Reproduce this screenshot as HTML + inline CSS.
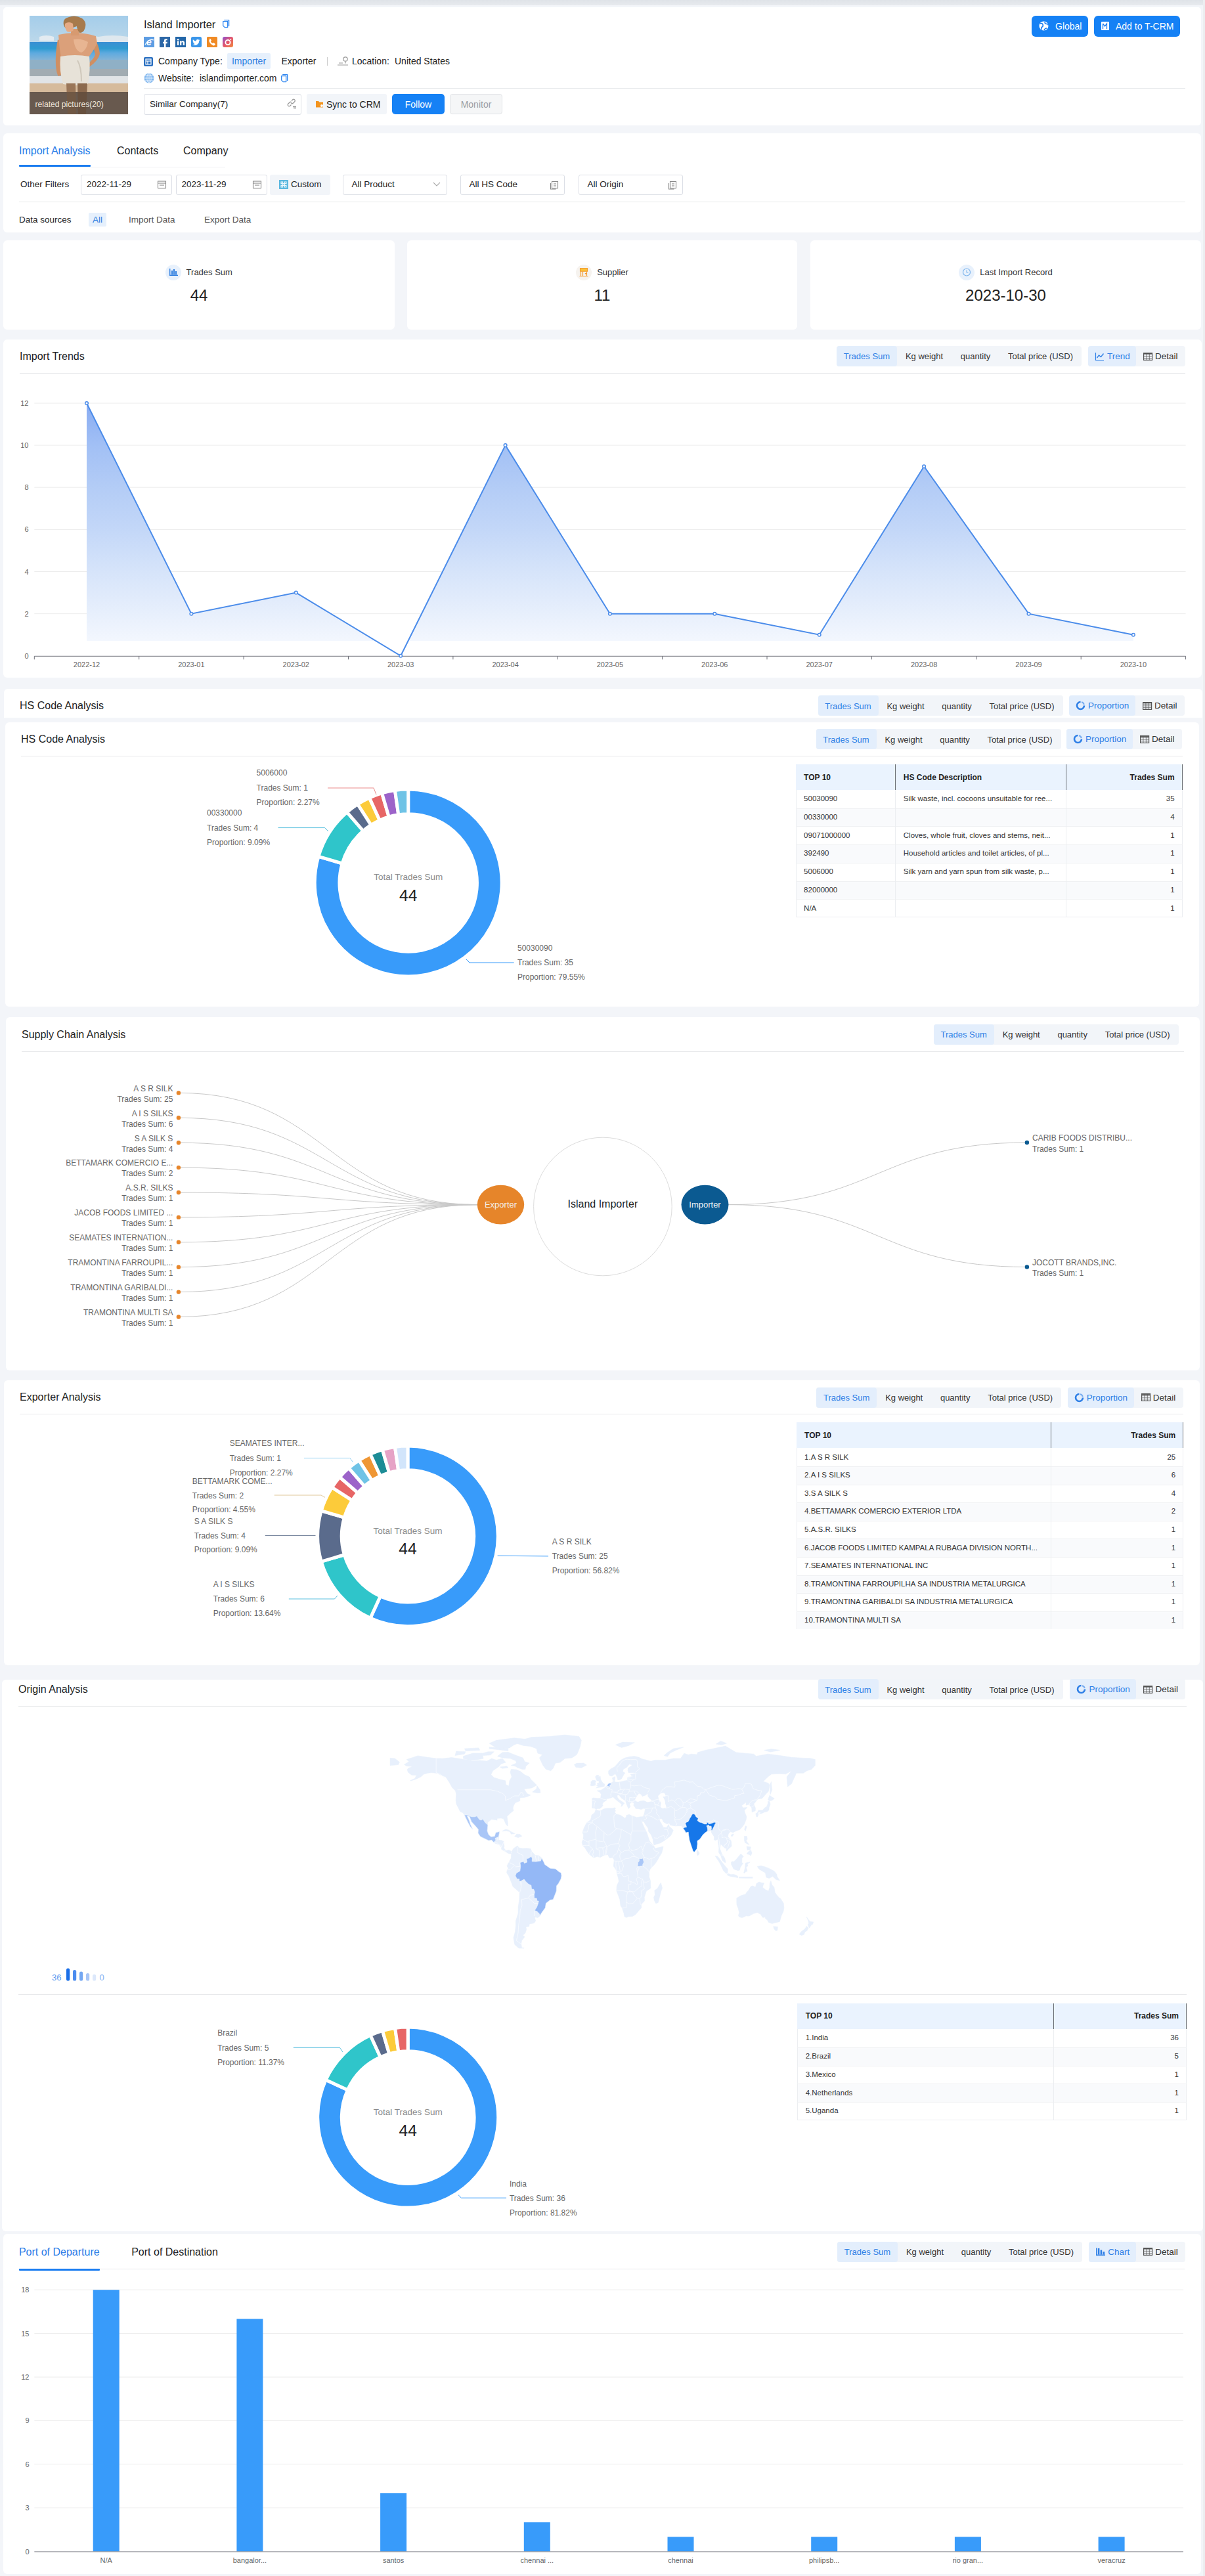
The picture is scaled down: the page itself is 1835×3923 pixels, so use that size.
<!DOCTYPE html>
<html><head><meta charset="utf-8"><title>Island Importer</title>
<style>
html,body{margin:0;padding:0}
body{width:1835px;height:3923px;background:#f3f5f9;position:relative;overflow:hidden;font-family:"Liberation Sans", Arial, sans-serif;color:#222}
svg text{font-family:"Liberation Sans", Arial, sans-serif}
</style></head><body>
<div style="position:absolute;left:0.0px;top:0.0px;width:1835.0px;height:8.0px;background:linear-gradient(#dfe3e8,#e7eaee);border-radius:0px;"></div>
<div style="position:absolute;left:5.0px;top:10.5px;width:1824.0px;height:180.5px;background:#fff;border-radius:5px;"></div>
<svg style="position:absolute;left:45px;top:24px;overflow:visible;" width="150" height="150" viewBox="45 24 150 150"><defs><clipPath id="pc"><rect x="45" y="24" width="150" height="150"/></clipPath>
<linearGradient id="sky" x1="0" y1="0" x2="0" y2="1"><stop offset="0" stop-color="#a4cdea"/><stop offset="1" stop-color="#bcd8ea"/></linearGradient>
<linearGradient id="sea" x1="0" y1="0" x2="0" y2="1"><stop offset="0" stop-color="#3a8fd3"/><stop offset="0.35" stop-color="#2f9bd0"/><stop offset="0.6" stop-color="#5eaadf"/><stop offset="1" stop-color="#86b4d6"/></linearGradient></defs>
<g clip-path="url(#pc)">
<rect x="45" y="24" width="150" height="41" fill="url(#sky)"/>
<path d="M110 58 q20 -6 40 -2 q20 -4 45 0 v8 h-85z" fill="#dfe8ee"/>
<path d="M60 56 q10 -4 22 0 v6 h-22z" fill="#e3ebf1"/>
<rect x="45" y="64" width="150" height="28" fill="url(#sea)"/>
<rect x="45" y="91" width="150" height="15" fill="#8fb0c6"/>
<rect x="45" y="105" width="150" height="12" fill="#a2acb2"/>
<rect x="45" y="116" width="150" height="12" fill="#e1e4e6"/>
<rect x="45" y="127" width="150" height="14" fill="#d6bb9c"/>
<rect x="45" y="140" width="150" height="34" fill="#8d7868"/>
<path d="M88 60 q-4 20 -3 40 q1 12 4 16 l5 -2 q-2 -14 0 -28 l3 -20z" fill="#d08f62"/>
<path d="M143 58 q8 10 9 24 q-2 10 -16 20 l-3 -4 q10 -8 12 -15 q-2 -10 -6 -16z" fill="#d08f62"/>
<path d="M89 53 Q117 46 146 55 L148 66 Q141 80 133 89 L93 89 Q90 70 89 53 Z" fill="#dba07a"/>
<path d="M112 60 q12 -2 22 4 q-2 12 -10 16 q-10 -2 -12 -20z" fill="#e8b592"/>
<path d="M108 44 h12 v10 h-12z" fill="#d79a70"/>
<path d="M97 38 q-2 -10 8 -12 q10 -4 20 2 q8 6 4 16 q-2 6 -8 6 q-4 -6 -4 -10 q-8 2 -12 6 q-6 -2 -8 -8z" fill="#a77a4c"/>
<path d="M99 36 q6 -4 12 0 l1 10 q-4 4 -10 2 q-4 -6 -3 -12z" fill="#e6ab86"/>
<path d="M92 86 q22 -4 44 0 q2 20 -2 42 q-20 4 -38 0 q-6 -20 -4 -42z" fill="#e7e2d8"/>
<path d="M118 92 q6 10 6 32" stroke="#cfc8bb" stroke-width="2" fill="none"/>
<path d="M101 127 h14 l1 47 h-13z" fill="#9a7658"/>
<path d="M118 127 h15 l-2 47 h-12z" fill="#8c6a4e"/>
<rect x="45" y="140" width="150" height="34" fill="rgba(45,40,38,0.38)"/>
</g>
<text x="53.5" y="162.5" font-size="12.1" fill="#efe6dc" font-family="Liberation Sans">related pictures(20)</text></svg>
<div style="position:absolute;left:219.0px;top:29.0px;font-size:16.4px;line-height:16.4px;color:#222;white-space:nowrap;">Island Importer</div>
<svg style="position:absolute;left:338.5px;top:29.8px;overflow:visible;" width="11" height="13" viewBox="338.5 29.8 11 13"><g fill="none" stroke="#2f86f0" stroke-width="1.3" stroke-linejoin="round"><path d="M340.7 30.5 H348.1 V39.8"/><path d="M339.2 32.4 H346.2 V41.4 H341.7 L339.2 38.9 Z"/></g></svg>
<svg style="position:absolute;left:219px;top:56px;overflow:visible;" width="16" height="16" viewBox="219 56 16 16"><rect x="219" y="56" width="16" height="16" fill="#5d9de3"/><text x="227" y="69" font-size="14" font-style="italic" font-weight="700" fill="#fff" text-anchor="middle" font-family="Liberation Serif">e</text><path d="M221 68 Q227 58 234 61" stroke="#fff" stroke-width="1.2" fill="none"/></svg>
<svg style="position:absolute;left:243px;top:56px;overflow:visible;" width="16" height="16" viewBox="243 56 16 16"><rect x="243" y="56" width="16" height="16" fill="#2d67a6"/><path d="M254.5 59.2 h-2 c-1.8 0 -2.6 1 -2.6 2.6 v2 h-1.8 v2.4 h1.8 v5.8 h2.6 v-5.8 h2 l0.3 -2.4 h-2.3 v-1.6 c0 -0.6 0.3 -0.9 0.9 -0.9 h1.4z" fill="#fff"/></svg>
<svg style="position:absolute;left:267px;top:56px;overflow:visible;" width="16" height="16" viewBox="267 56 16 16"><rect x="267" y="56" width="16" height="16" fill="#2266a8"/><rect x="270" y="62.5" width="2.3" height="6.5" fill="#fff"/><circle cx="271.15" cy="60.2" r="1.3" fill="#fff"/><path d="M274 62.5 h2.2 v1 c0.5 -0.8 1.3 -1.2 2.3 -1.2 c1.6 0 2.5 1 2.5 3 v3.7 h-2.3 v-3.4 c0 -0.9 -0.4 -1.4 -1.1 -1.4 c-0.8 0 -1.3 0.5 -1.3 1.4 v3.4 h-2.3z" fill="#fff"/></svg>
<svg style="position:absolute;left:291px;top:56px;overflow:visible;" width="16" height="16" viewBox="291 56 16 16"><rect x="291" y="56" width="16" height="16" rx="2.5" fill="#3a96ea"/><path d="M304 61 c-0.4 0.2 -0.9 0.3 -1.3 0.4 c0.5 -0.3 0.8 -0.7 1 -1.3 c-0.4 0.3 -0.9 0.4 -1.4 0.5 c-0.9 -1 -2.6 -0.9 -3.3 0.3 c-0.3 0.5 -0.4 1.1 -0.2 1.7 c-1.9 -0.1 -3.6 -1 -4.8 -2.4 c-0.6 1.1 -0.3 2.4 0.7 3 c-0.4 0 -0.7 -0.1 -1 -0.3 c0 1.1 0.8 2.1 1.9 2.3 c-0.3 0.1 -0.7 0.1 -1 0.1 c0.3 1 1.2 1.6 2.2 1.6 c-1 0.8 -2.3 1.1 -3.5 1 c4.6 2.7 10 -0.3 9.9 -5.6 c0.5 -0.3 0.9 -0.7 1.2 -1.2z" fill="#fff"/></svg>
<svg style="position:absolute;left:315px;top:56px;overflow:visible;" width="16" height="16" viewBox="315 56 16 16"><rect x="315" y="56" width="16" height="16" rx="1.5" fill="#f08a24"/><path d="M319.2 59 c0.6 -0.3 1.2 -0.2 1.5 0.4 l1 1.8 c0.3 0.5 0.1 1 -0.3 1.3 l-0.6 0.5 c0.5 1.3 1.6 2.5 2.9 3.1 l0.5 -0.6 c0.3 -0.4 0.9 -0.5 1.3 -0.2 l1.8 1.1 c0.5 0.3 0.6 1 0.3 1.5 l-0.6 0.8 c-0.6 0.7 -1.6 0.9 -2.5 0.5 c-2.7 -1.2 -4.9 -3.5 -6 -6.2 c-0.3 -0.9 -0.1 -1.8 0.6 -2.4z" fill="#fff"/></svg>
<svg style="position:absolute;left:339px;top:56px;overflow:visible;" width="16" height="16" viewBox="339 56 16 16"><defs><linearGradient id="ig" x1="0" y1="0" x2="1" y2="1"><stop offset="0" stop-color="#8a4fd0"/><stop offset="0.5" stop-color="#e5566c"/><stop offset="1" stop-color="#f08c3c"/></linearGradient></defs><rect x="339" y="56" width="16" height="16" rx="3" fill="url(#ig)"/><circle cx="347" cy="64.5" r="3.6" fill="none" stroke="#fff" stroke-width="1.8"/><circle cx="351.3" cy="59.9" r="1" fill="#fff"/></svg>
<svg style="position:absolute;left:219px;top:87px;overflow:visible;" width="14" height="14" viewBox="219 87 14 14"><rect x="219" y="87" width="14" height="14" rx="2" fill="#2a6fc0"/><rect x="222" y="90" width="8" height="8" fill="none" stroke="#fff" stroke-width="1.2"/><line x1="222" y1="93" x2="230" y2="93" stroke="#fff" stroke-width="1.2"/><line x1="225" y1="93" x2="225" y2="98" stroke="#fff" stroke-width="1.2"/></svg>
<div style="position:absolute;left:241.0px;top:86.2px;font-size:14px;line-height:14px;color:#222;white-space:nowrap;">Company Type:</div>
<div style="position:absolute;left:346.0px;top:81.0px;width:66.0px;height:23.5px;background:#e6f0fc;border-radius:2px;"></div>
<div style="position:absolute;left:379.0px;top:86.2px;font-size:14px;line-height:14px;color:#2f7fe0;white-space:nowrap;transform:translateX(-50%);">Importer</div>
<div style="position:absolute;left:428.5px;top:86.2px;font-size:14px;line-height:14px;color:#222;white-space:nowrap;">Exporter</div>
<div style="position:absolute;left:498.0px;top:87.0px;width:1.0px;height:13.0px;background:#ccc;border-radius:0px;"></div>
<svg style="position:absolute;left:513px;top:85px;overflow:visible;" width="18" height="16" viewBox="513 85 18 16"><g fill="none" stroke="#999" stroke-width="1.2"><circle cx="526" cy="90" r="3.2"/><path d="M526 93.5 v3"/><path d="M514 99 h16 M516 96 h6"/></g></svg>
<div style="position:absolute;left:536.0px;top:86.2px;font-size:14px;line-height:14px;color:#222;white-space:nowrap;">Location:</div>
<div style="position:absolute;left:601.0px;top:86.2px;font-size:14px;line-height:14px;color:#222;white-space:nowrap;">United States</div>
<svg style="position:absolute;left:219px;top:111px;overflow:visible;" width="16" height="16" viewBox="219 111 16 16"><circle cx="227" cy="119" r="7.5" fill="#7fb6ee"/><g fill="none" stroke="#e8f2fd" stroke-width="0.9"><ellipse cx="227" cy="119" rx="3.2" ry="7.3"/><line x1="219.5" y1="119" x2="234.5" y2="119"/><line x1="221" y1="115" x2="233" y2="115"/><line x1="221" y1="123" x2="233" y2="123"/><line x1="227" y1="111.5" x2="227" y2="126.5"/></g></svg>
<div style="position:absolute;left:241.0px;top:111.7px;font-size:14px;line-height:14px;color:#222;white-space:nowrap;">Website:</div>
<div style="position:absolute;left:304.0px;top:111.7px;font-size:14px;line-height:14px;color:#222;white-space:nowrap;">islandimporter.com</div>
<svg style="position:absolute;left:427.5px;top:113px;overflow:visible;" width="11" height="13" viewBox="427.5 113 11 13"><g fill="none" stroke="#2f86f0" stroke-width="1.3" stroke-linejoin="round"><path d="M429.7 113.7 H437.1 V123"/><path d="M428.2 115.6 H435.2 V124.6 H430.7 L428.2 122.1 Z"/></g></svg>
<div style="position:absolute;left:219.0px;top:133.5px;width:1586.0px;height:1.0px;background:#e6e8eb;border-radius:0px;"></div>
<div style="position:absolute;left:219.0px;top:143.0px;width:239.5px;height:31.5px;background:#fff;border-radius:3px;border:1px solid #dcdfe6;box-sizing:border-box;"></div>
<div style="position:absolute;left:228.0px;top:151.9px;font-size:13.5px;line-height:13.5px;color:#222;white-space:nowrap;">Similar Company(7)</div>
<svg style="position:absolute;left:437px;top:151px;overflow:visible;" width="14" height="14" viewBox="437 151 14 14"><g fill="none" stroke="#999" stroke-width="1.3"><path d="M444 153.5 l2 -2 a2.2 2.2 0 0 1 3 3 l-2.5 2.5 a2.2 2.2 0 0 1 -3 0"/><path d="M443.5 159.5 l-2 2 a2.2 2.2 0 0 1 -3 -3 l2.5 -2.5 a2.2 2.2 0 0 1 3 0"/><path d="M446 162.5 h5 M447 164.5 h4"/></g></svg>
<div style="position:absolute;left:467.0px;top:143.4px;width:122.0px;height:31.1px;background:#f2f5f9;border-radius:3px;"></div>
<svg style="position:absolute;left:481px;top:153px;overflow:visible;" width="12" height="11" viewBox="481 153 12 11"><path d="M481 154 h4 l1.5 1.5 h5.5 v8 h-11z" fill="#f3941e"/><circle cx="490" cy="161" r="2" fill="#fff"/></svg>
<div style="position:absolute;left:497.0px;top:151.7px;font-size:14px;line-height:14px;color:#222;white-space:nowrap;">Sync to CRM</div>
<div style="position:absolute;left:597.0px;top:143.4px;width:80.0px;height:31.1px;background:#1581f5;border-radius:5px;"></div>
<div style="position:absolute;left:637.0px;top:151.7px;font-size:14px;line-height:14px;color:#fff;white-space:nowrap;transform:translateX(-50%);">Follow</div>
<div style="position:absolute;left:685.3px;top:143.4px;width:79.4px;height:31.1px;background:#f5f6f7;border-radius:4px;border:1px solid #e1e3e6;box-sizing:border-box;"></div>
<div style="position:absolute;left:725.0px;top:151.7px;font-size:14px;line-height:14px;color:#9a9da3;white-space:nowrap;transform:translateX(-50%);">Monitor</div>
<div style="position:absolute;left:1571.0px;top:24.0px;width:86.0px;height:32.0px;background:#1581f5;border-radius:6px;"></div>
<svg style="position:absolute;left:1582px;top:32px;overflow:visible;" width="15" height="15" viewBox="1582 32 15 15"><circle cx="1589.5" cy="39.5" r="7" fill="#fff"/><path d="M1584 36 q3 -1 4 1 q1 3 -1 4 q-2 1 -1 4 M1591 33.5 q0 3 3 3 q2 0 2.5 2 M1590 46 q1 -3 4 -3" fill="none" stroke="#1a7cf0" stroke-width="1.6"/></svg>
<div style="position:absolute;left:1607.0px;top:33.2px;font-size:14px;line-height:14px;color:#fff;white-space:nowrap;">Global</div>
<div style="position:absolute;left:1666.0px;top:24.0px;width:131.0px;height:32.0px;background:#1581f5;border-radius:6px;"></div>
<svg style="position:absolute;left:1677px;top:33px;overflow:visible;" width="13" height="14" viewBox="1677 33 13 14"><rect x="1677" y="33" width="12" height="13" rx="1" fill="#fff"/><path d="M1679.5 36 v8 M1679.5 36 l3 4 l3 -4 v8" fill="none" stroke="#1a7cf0" stroke-width="1.3"/></svg>
<div style="position:absolute;left:1699.0px;top:33.2px;font-size:14px;line-height:14px;color:#fff;white-space:nowrap;">Add to T-CRM</div>
<div style="position:absolute;left:5.0px;top:203.0px;width:1824.0px;height:151.0px;background:#fff;border-radius:6px;"></div>
<div style="position:absolute;left:29.0px;top:221.7px;font-size:16px;line-height:16px;color:#2a7de8;white-space:nowrap;">Import Analysis</div>
<div style="position:absolute;left:178.0px;top:221.7px;font-size:16px;line-height:16px;color:#222;white-space:nowrap;">Contacts</div>
<div style="position:absolute;left:279.0px;top:221.7px;font-size:16px;line-height:16px;color:#222;white-space:nowrap;">Company</div>
<div style="position:absolute;left:29.0px;top:253.5px;width:314.0px;height:1.0px;background:#f1f2f4;border-radius:0px;"></div>
<div style="position:absolute;left:29.0px;top:251.0px;width:109.0px;height:3.0px;background:#1a7cf0;border-radius:1px;"></div>
<div style="position:absolute;left:31.0px;top:274.4px;font-size:13.5px;line-height:13.5px;color:#222;white-space:nowrap;">Other Filters</div>
<div style="position:absolute;left:123.0px;top:265.5px;width:139.0px;height:31.0px;background:#fff;border-radius:3px;border:1px solid #dcdfe6;box-sizing:border-box;"></div>
<div style="position:absolute;left:132.0px;top:274.4px;font-size:13.5px;line-height:13.5px;color:#222;white-space:nowrap;">2022-11-29</div>
<svg style="position:absolute;left:240px;top:275px;overflow:visible;" width="13" height="12" viewBox="240 275 13 12"><g fill="none" stroke="#888" stroke-width="1.1"><rect x="240.5" y="276" width="12" height="10.5"/><line x1="240.5" x2="252.5" y1="279" y2="279"/><line x1="243" x2="250" y1="282" y2="282"/></g></svg>
<div style="position:absolute;left:267.5px;top:265.5px;width:139.0px;height:31.0px;background:#fff;border-radius:3px;border:1px solid #dcdfe6;box-sizing:border-box;"></div>
<div style="position:absolute;left:276.5px;top:274.4px;font-size:13.5px;line-height:13.5px;color:#222;white-space:nowrap;">2023-11-29</div>
<svg style="position:absolute;left:384.5px;top:275px;overflow:visible;" width="13" height="12" viewBox="384.5 275 13 12"><g fill="none" stroke="#888" stroke-width="1.1"><rect x="385.0" y="276" width="12" height="10.5"/><line x1="385.0" x2="397.0" y1="279" y2="279"/><line x1="387.5" x2="394.5" y1="282" y2="282"/></g></svg>
<div style="position:absolute;left:411.0px;top:265.5px;width:92.0px;height:31.0px;background:#f2f5f9;border-radius:3px;"></div>
<svg style="position:absolute;left:425px;top:274px;overflow:visible;" width="14" height="14" viewBox="425 274 14 14"><rect x="425" y="274" width="14" height="14" fill="#5ab7df"/><g fill="none" stroke="#eef7fc" stroke-width="1.1"><rect x="428" y="277" width="2.6" height="2.6"/><rect x="433.4" y="277" width="2.6" height="2.6"/><rect x="428" y="282.4" width="2.6" height="2.6"/><rect x="433.4" y="282.4" width="2.6" height="2.6"/><path d="M430.6 279.6 h2.8 v2.8 h-2.8z"/></g></svg>
<div style="position:absolute;left:443.0px;top:274.4px;font-size:13.5px;line-height:13.5px;color:#222;white-space:nowrap;">Custom</div>
<div style="position:absolute;left:522.0px;top:265.5px;width:159.0px;height:31.0px;background:#fff;border-radius:3px;border:1px solid #dcdfe6;box-sizing:border-box;"></div>
<div style="position:absolute;left:535.5px;top:274.4px;font-size:13.5px;line-height:13.5px;color:#222;white-space:nowrap;">All Product</div>
<svg style="position:absolute;left:659px;top:277px;overflow:visible;" width="12" height="8" viewBox="659 277 12 8"><path d="M660 278 l5 5 l5 -5" fill="none" stroke="#aaa" stroke-width="1.1"/></svg>
<div style="position:absolute;left:701.0px;top:265.5px;width:159.0px;height:31.0px;background:#fff;border-radius:3px;border:1px solid #dcdfe6;box-sizing:border-box;"></div>
<div style="position:absolute;left:714.5px;top:274.4px;font-size:13.5px;line-height:13.5px;color:#222;white-space:nowrap;">All HS Code</div>
<svg style="position:absolute;left:838px;top:275px;overflow:visible;" width="12" height="13" viewBox="838 275 12 13"><g fill="none" stroke="#888" stroke-width="1.1"><rect x="840.5" y="276.5" width="9" height="10"/><path d="M838.5 279 v9 h8"/><line x1="843" x2="847" y1="280" y2="280"/><line x1="843" x2="847" y1="283" y2="283"/></g></svg>
<div style="position:absolute;left:881.0px;top:265.5px;width:159.0px;height:31.0px;background:#fff;border-radius:3px;border:1px solid #dcdfe6;box-sizing:border-box;"></div>
<div style="position:absolute;left:894.5px;top:274.4px;font-size:13.5px;line-height:13.5px;color:#222;white-space:nowrap;">All Origin</div>
<svg style="position:absolute;left:1018px;top:275px;overflow:visible;" width="12" height="13" viewBox="1018 275 12 13"><g fill="none" stroke="#888" stroke-width="1.1"><rect x="1020.5" y="276.5" width="9" height="10"/><path d="M1018.5 279 v9 h8"/><line x1="1023" x2="1027" y1="280" y2="280"/><line x1="1023" x2="1027" y1="283" y2="283"/></g></svg>
<div style="position:absolute;left:29.0px;top:307.0px;width:1776.0px;height:1.0px;background:#e8e9eb;border-radius:0px;"></div>
<div style="position:absolute;left:29.0px;top:327.9px;font-size:13.5px;line-height:13.5px;color:#222;white-space:nowrap;">Data sources</div>
<div style="position:absolute;left:135.0px;top:324.0px;width:27.0px;height:21.0px;background:#e6f0fc;border-radius:2px;"></div>
<div style="position:absolute;left:148.5px;top:327.9px;font-size:13.5px;line-height:13.5px;color:#2f7fe0;white-space:nowrap;transform:translateX(-50%);">All</div>
<div style="position:absolute;left:196.0px;top:327.9px;font-size:13.5px;line-height:13.5px;color:#555;white-space:nowrap;">Import Data</div>
<div style="position:absolute;left:311.0px;top:327.9px;font-size:13.5px;line-height:13.5px;color:#555;white-space:nowrap;">Export Data</div>
<div style="position:absolute;left:5.0px;top:366.0px;width:596.0px;height:136.0px;background:#fff;border-radius:6px;"></div>
<div style="position:absolute;left:251.6px;top:402.5px;width:24.0px;height:24.0px;background:#e8f1fc;border-radius:12px;"></div>
<svg style="position:absolute;left:256.601px;top:408px;overflow:visible;" width="14" height="13" viewBox="256.601 408 14 13"><g fill="#2f7fe0"><rect x="257.601" y="409" width="1.4" height="11"/><rect x="257.601" y="418.6" width="13" height="1.4"/><rect x="260.601" y="412" width="2" height="6.6"/><rect x="263.601" y="410" width="2" height="8.6"/><rect x="266.601" y="413" width="2" height="5.6"/></g></svg>
<div style="position:absolute;left:283.6px;top:408.2px;font-size:13px;line-height:13px;color:#333;white-space:nowrap;">Trades Sum</div>
<div style="position:absolute;left:303.0px;top:437.8px;font-size:24px;line-height:24px;color:#222;white-space:nowrap;transform:translateX(-50%);">44</div>
<div style="position:absolute;left:620.0px;top:366.0px;width:594.0px;height:136.0px;background:#fff;border-radius:6px;"></div>
<div style="position:absolute;left:877.2px;top:402.5px;width:24.0px;height:24.0px;background:#f6f3ef;border-radius:12px;"></div>
<svg style="position:absolute;left:882.158px;top:407px;overflow:visible;" width="14" height="15" viewBox="882.158 407 14 15"><rect x="883.658" y="408.6" width="11" height="4.6" fill="#fbc43a" stroke="#f39a2d" stroke-width="1.1"/><path d="M884.658 413.5 v6.5 M887.658 413.5 v6.5 M893.658 413.5 v6.5 M882.658 420.5 h13" stroke="#f39a2d" stroke-width="1.2" fill="none"/><path d="M890.658 416 h3 l-1.5 2z" fill="#f39a2d"/></svg>
<div style="position:absolute;left:909.2px;top:408.2px;font-size:13px;line-height:13px;color:#333;white-space:nowrap;">Supplier</div>
<div style="position:absolute;left:917.0px;top:437.8px;font-size:24px;line-height:24px;color:#222;white-space:nowrap;transform:translateX(-50%);">11</div>
<div style="position:absolute;left:1234.0px;top:366.0px;width:595.0px;height:136.0px;background:#fff;border-radius:6px;"></div>
<div style="position:absolute;left:1460.2px;top:402.5px;width:24.0px;height:24.0px;background:#e8f1fc;border-radius:12px;"></div>
<svg style="position:absolute;left:1465.2305000000001px;top:408px;overflow:visible;" width="14" height="14" viewBox="1465.2305000000001 408 14 14"><circle cx="1472.2305000000001" cy="414.5" r="5.5" fill="none" stroke="#7ab3ec" stroke-width="1.2"/><path d="M1472.2305000000001 411.5 v3.2 h2.5" fill="none" stroke="#7ab3ec" stroke-width="1.1"/></svg>
<div style="position:absolute;left:1492.2px;top:408.2px;font-size:13px;line-height:13px;color:#333;white-space:nowrap;">Last Import Record</div>
<div style="position:absolute;left:1531.5px;top:437.8px;font-size:24px;line-height:24px;color:#222;white-space:nowrap;transform:translateX(-50%);">2023-10-30</div>
<div style="position:absolute;left:5.0px;top:517.0px;width:1825.0px;height:515.0px;background:#fff;border-radius:6px;"></div>
<div style="position:absolute;left:30.0px;top:535.2px;font-size:16px;line-height:16px;color:#222;white-space:nowrap;">Import Trends</div>
<div style="position:absolute;left:1274.0px;top:527.0px;width:373.0px;height:31.0px;background:#f2f5f9;border-radius:4px;"></div>
<div style="position:absolute;left:1274.0px;top:527.0px;width:92.0px;height:31.0px;background:#e3eefc;border-radius:4px;"></div>
<div style="position:absolute;left:1320.0px;top:536.2px;font-size:13px;line-height:13px;color:#2e7fe6;white-space:nowrap;transform:translateX(-50%);">Trades Sum</div>
<div style="position:absolute;left:1407.5px;top:536.2px;font-size:13px;line-height:13px;color:#333;white-space:nowrap;transform:translateX(-50%);">Kg weight</div>
<div style="position:absolute;left:1485.5px;top:536.2px;font-size:13px;line-height:13px;color:#333;white-space:nowrap;transform:translateX(-50%);">quantity</div>
<div style="position:absolute;left:1584.5px;top:536.2px;font-size:13px;line-height:13px;color:#333;white-space:nowrap;transform:translateX(-50%);">Total price (USD)</div>
<div style="position:absolute;left:1657.0px;top:527.0px;width:148.0px;height:31.0px;background:#f2f5f9;border-radius:4px;"></div>
<div style="position:absolute;left:1657.0px;top:527.0px;width:73.0px;height:31.0px;background:#e3eefc;border-radius:4px;"></div>
<svg style="position:absolute;left:1668px;top:536.5px;overflow:visible;" width="13" height="12" viewBox="1668 536.5 13 12"><path d="M1668.5 536.5 V548.0 H1681" fill="none" stroke="#2e7fe6" stroke-width="1.2"/><path d="M1670.5 544.5 l3 -4 l3 2.5 l4 -5" fill="none" stroke="#2e7fe6" stroke-width="1.3"/></svg>
<div style="position:absolute;left:1686.0px;top:535.9px;font-size:13.5px;line-height:13.5px;color:#2e7fe6;white-space:nowrap;">Trend</div>
<svg style="position:absolute;left:1741px;top:536.5px;overflow:visible;" width="14" height="12" viewBox="1741 536.5 14 12"><rect x="1741.6" y="537.1" width="13" height="10.8" fill="none" stroke="#555" stroke-width="1.2"/><rect x="1741.6" y="537.1" width="13" height="1.6" fill="#555"/><line x1="1741.6" x2="1754.6" y1="539.8" y2="539.8" stroke="#555" stroke-width="0.75"/><line x1="1741.6" x2="1754.6" y1="542.5" y2="542.5" stroke="#555" stroke-width="0.75"/><line x1="1741.6" x2="1754.6" y1="545.2" y2="545.2" stroke="#555" stroke-width="0.75"/><line x1="1745.9" x2="1745.9" y1="537.1" y2="547.9" stroke="#555" stroke-width="0.75"/><line x1="1750.3" x2="1750.3" y1="537.1" y2="547.9" stroke="#555" stroke-width="0.75"/></svg>
<div style="position:absolute;left:1759.0px;top:535.9px;font-size:13.5px;line-height:13.5px;color:#333;white-space:nowrap;">Detail</div>
<div style="position:absolute;left:30.0px;top:567.5px;width:1775.0px;height:1.0px;background:#e8e9eb;border-radius:0px;"></div>
<svg style="position:absolute;left:0px;top:590px;overflow:visible;" width="1835" height="440" viewBox="0 590 1835 440"><defs><linearGradient id="tg" gradientUnits="userSpaceOnUse" x1="0" y1="614" x2="0" y2="999"><stop offset="0.000" stop-color="#88acf2"/><stop offset="0.169" stop-color="#a2c0f5"/><stop offset="0.330" stop-color="#b3ccf6"/><stop offset="0.499" stop-color="#c3d7f8"/><stop offset="0.665" stop-color="#d6e4fa"/><stop offset="0.829" stop-color="#e7effc"/><stop offset="0.940" stop-color="#f3f7fe"/><stop offset="0.942" stop-color="#ffffff" stop-opacity="0"/></linearGradient></defs><text x="43.5" y="1002.8" font-size="11" fill="#666" text-anchor="end" >0</text><line x1="52.3" x2="1805.6" y1="934.7" y2="934.7" stroke="#ececec" stroke-width="1"/><text x="43.5" y="938.6" font-size="11" fill="#666" text-anchor="end" >2</text><line x1="52.3" x2="1805.6" y1="870.5" y2="870.5" stroke="#ececec" stroke-width="1"/><text x="43.5" y="874.5" font-size="11" fill="#666" text-anchor="end" >4</text><line x1="52.3" x2="1805.6" y1="806.4" y2="806.4" stroke="#ececec" stroke-width="1"/><text x="43.5" y="810.3" font-size="11" fill="#666" text-anchor="end" >6</text><line x1="52.3" x2="1805.6" y1="742.2" y2="742.2" stroke="#ececec" stroke-width="1"/><text x="43.5" y="746.2" font-size="11" fill="#666" text-anchor="end" >8</text><line x1="52.3" x2="1805.6" y1="678.1" y2="678.1" stroke="#ececec" stroke-width="1"/><text x="43.5" y="682.1" font-size="11" fill="#666" text-anchor="end" >10</text><line x1="52.3" x2="1805.6" y1="614.0" y2="614.0" stroke="#ececec" stroke-width="1"/><text x="43.5" y="617.9" font-size="11" fill="#666" text-anchor="end" >12</text><polygon points="132.0,998.8 132.0,614.0 291.4,934.7 450.8,902.6 610.2,998.8 769.6,678.1 928.9,934.7 1088.3,934.7 1247.7,966.7 1407.1,710.2 1566.5,934.7 1725.9,966.7 1725.9,998.8" fill="url(#tg)"/><line x1="52.3" x2="1805.6" y1="999.3" y2="999.3" stroke="#6e7079" stroke-width="1"/><line x1="52.3" x2="52.3" y1="999.3" y2="1004.3" stroke="#6e7079" stroke-width="1"/><line x1="211.7" x2="211.7" y1="999.3" y2="1004.3" stroke="#6e7079" stroke-width="1"/><line x1="371.1" x2="371.1" y1="999.3" y2="1004.3" stroke="#6e7079" stroke-width="1"/><line x1="530.5" x2="530.5" y1="999.3" y2="1004.3" stroke="#6e7079" stroke-width="1"/><line x1="689.9" x2="689.9" y1="999.3" y2="1004.3" stroke="#6e7079" stroke-width="1"/><line x1="849.3" x2="849.3" y1="999.3" y2="1004.3" stroke="#6e7079" stroke-width="1"/><line x1="1008.6" x2="1008.6" y1="999.3" y2="1004.3" stroke="#6e7079" stroke-width="1"/><line x1="1168.0" x2="1168.0" y1="999.3" y2="1004.3" stroke="#6e7079" stroke-width="1"/><line x1="1327.4" x2="1327.4" y1="999.3" y2="1004.3" stroke="#6e7079" stroke-width="1"/><line x1="1486.8" x2="1486.8" y1="999.3" y2="1004.3" stroke="#6e7079" stroke-width="1"/><line x1="1646.2" x2="1646.2" y1="999.3" y2="1004.3" stroke="#6e7079" stroke-width="1"/><line x1="1805.6" x2="1805.6" y1="999.3" y2="1004.3" stroke="#6e7079" stroke-width="1"/><polyline points="132.0,614.0 291.4,934.7 450.8,902.6 610.2,998.8 769.6,678.1 928.9,934.7 1088.3,934.7 1247.7,966.7 1407.1,710.2 1566.5,934.7 1725.9,966.7" fill="none" stroke="#4b8cea" stroke-width="2"/><circle cx="132.0" cy="614.0" r="2.3" fill="#fff" stroke="#4b8cea" stroke-width="1.5"/><circle cx="291.4" cy="934.7" r="2.3" fill="#fff" stroke="#4b8cea" stroke-width="1.5"/><circle cx="450.8" cy="902.6" r="2.3" fill="#fff" stroke="#4b8cea" stroke-width="1.5"/><circle cx="610.2" cy="998.8" r="2.3" fill="#fff" stroke="#4b8cea" stroke-width="1.5"/><circle cx="769.6" cy="678.1" r="2.3" fill="#fff" stroke="#4b8cea" stroke-width="1.5"/><circle cx="928.9" cy="934.7" r="2.3" fill="#fff" stroke="#4b8cea" stroke-width="1.5"/><circle cx="1088.3" cy="934.7" r="2.3" fill="#fff" stroke="#4b8cea" stroke-width="1.5"/><circle cx="1247.7" cy="966.7" r="2.3" fill="#fff" stroke="#4b8cea" stroke-width="1.5"/><circle cx="1407.1" cy="710.2" r="2.3" fill="#fff" stroke="#4b8cea" stroke-width="1.5"/><circle cx="1566.5" cy="934.7" r="2.3" fill="#fff" stroke="#4b8cea" stroke-width="1.5"/><circle cx="1725.9" cy="966.7" r="2.3" fill="#fff" stroke="#4b8cea" stroke-width="1.5"/><text x="132.0" y="1015.5" font-size="11" fill="#666" text-anchor="middle" >2022-12</text><text x="291.4" y="1015.5" font-size="11" fill="#666" text-anchor="middle" >2023-01</text><text x="450.8" y="1015.5" font-size="11" fill="#666" text-anchor="middle" >2023-02</text><text x="610.2" y="1015.5" font-size="11" fill="#666" text-anchor="middle" >2023-03</text><text x="769.6" y="1015.5" font-size="11" fill="#666" text-anchor="middle" >2023-04</text><text x="928.9" y="1015.5" font-size="11" fill="#666" text-anchor="middle" >2023-05</text><text x="1088.3" y="1015.5" font-size="11" fill="#666" text-anchor="middle" >2023-06</text><text x="1247.7" y="1015.5" font-size="11" fill="#666" text-anchor="middle" >2023-07</text><text x="1407.1" y="1015.5" font-size="11" fill="#666" text-anchor="middle" >2023-08</text><text x="1566.5" y="1015.5" font-size="11" fill="#666" text-anchor="middle" >2023-09</text><text x="1725.9" y="1015.5" font-size="11" fill="#666" text-anchor="middle" >2023-10</text></svg>
<div style="position:absolute;left:6.0px;top:1048.5px;width:1825.0px;height:44.7px;background:#fff;border-radius:0px;border-radius:6px 6px 0 0;"></div>
<div style="position:absolute;left:30.0px;top:1067.0px;font-size:16px;line-height:16px;color:#222;white-space:nowrap;">HS Code Analysis</div>
<div style="position:absolute;left:1245.5px;top:1059.4px;width:373.0px;height:31.0px;background:#f2f5f9;border-radius:4px;"></div>
<div style="position:absolute;left:1245.5px;top:1059.4px;width:92.0px;height:31.0px;background:#e3eefc;border-radius:4px;"></div>
<div style="position:absolute;left:1291.5px;top:1068.6px;font-size:13px;line-height:13px;color:#2e7fe6;white-space:nowrap;transform:translateX(-50%);">Trades Sum</div>
<div style="position:absolute;left:1379.0px;top:1068.6px;font-size:13px;line-height:13px;color:#333;white-space:nowrap;transform:translateX(-50%);">Kg weight</div>
<div style="position:absolute;left:1457.0px;top:1068.6px;font-size:13px;line-height:13px;color:#333;white-space:nowrap;transform:translateX(-50%);">quantity</div>
<div style="position:absolute;left:1556.0px;top:1068.6px;font-size:13px;line-height:13px;color:#333;white-space:nowrap;transform:translateX(-50%);">Total price (USD)</div>
<div style="position:absolute;left:1628.0px;top:1059.4px;width:176.0px;height:31.0px;background:#f2f5f9;border-radius:4px;"></div>
<div style="position:absolute;left:1628.0px;top:1059.4px;width:101.0px;height:31.0px;background:#e3eefc;border-radius:4px;"></div>
<svg style="position:absolute;left:1639px;top:1068.4px;overflow:visible;" width="13" height="13" viewBox="1639 1068.4 13 13"><path d="M1645.5 1069.4 A5.5 5.5 0 1 0 1651 1074.9" fill="none" stroke="#2e7fe6" stroke-width="2.6"/><path d="M1647 1069.7 A5 5 0 0 1 1650.8 1073.3000000000002" fill="none" stroke="#2e7fe6" stroke-width="2" opacity="0.6"/></svg>
<div style="position:absolute;left:1657.0px;top:1068.3px;font-size:13.5px;line-height:13.5px;color:#2e7fe6;white-space:nowrap;">Proportion</div>
<svg style="position:absolute;left:1740px;top:1068.9px;overflow:visible;" width="14" height="12" viewBox="1740 1068.9 14 12"><rect x="1740.6" y="1069.5" width="13" height="10.8" fill="none" stroke="#555" stroke-width="1.2"/><rect x="1740.6" y="1069.5" width="13" height="1.6" fill="#555"/><line x1="1740.6" x2="1753.6" y1="1072.2" y2="1072.2" stroke="#555" stroke-width="0.75"/><line x1="1740.6" x2="1753.6" y1="1074.9" y2="1074.9" stroke="#555" stroke-width="0.75"/><line x1="1740.6" x2="1753.6" y1="1077.6" y2="1077.6" stroke="#555" stroke-width="0.75"/><line x1="1744.9" x2="1744.9" y1="1069.5" y2="1080.3000000000002" stroke="#555" stroke-width="0.75"/><line x1="1749.3" x2="1749.3" y1="1069.5" y2="1080.3000000000002" stroke="#555" stroke-width="0.75"/></svg>
<div style="position:absolute;left:1758.0px;top:1068.3px;font-size:13.5px;line-height:13.5px;color:#333;white-space:nowrap;">Detail</div>
<div style="position:absolute;left:7.5px;top:1100.0px;width:1818.0px;height:433.0px;background:#fff;border-radius:6px;"></div>
<div style="position:absolute;left:32.0px;top:1117.8px;font-size:16px;line-height:16px;color:#222;white-space:nowrap;">HS Code Analysis</div>
<div style="position:absolute;left:1242.5px;top:1110.4px;width:373.0px;height:31.0px;background:#f2f5f9;border-radius:4px;"></div>
<div style="position:absolute;left:1242.5px;top:1110.4px;width:92.0px;height:31.0px;background:#e3eefc;border-radius:4px;"></div>
<div style="position:absolute;left:1288.5px;top:1119.6px;font-size:13px;line-height:13px;color:#2e7fe6;white-space:nowrap;transform:translateX(-50%);">Trades Sum</div>
<div style="position:absolute;left:1376.0px;top:1119.6px;font-size:13px;line-height:13px;color:#333;white-space:nowrap;transform:translateX(-50%);">Kg weight</div>
<div style="position:absolute;left:1454.0px;top:1119.6px;font-size:13px;line-height:13px;color:#333;white-space:nowrap;transform:translateX(-50%);">quantity</div>
<div style="position:absolute;left:1553.0px;top:1119.6px;font-size:13px;line-height:13px;color:#333;white-space:nowrap;transform:translateX(-50%);">Total price (USD)</div>
<div style="position:absolute;left:1624.0px;top:1110.4px;width:176.0px;height:31.0px;background:#f2f5f9;border-radius:4px;"></div>
<div style="position:absolute;left:1624.0px;top:1110.4px;width:101.0px;height:31.0px;background:#e3eefc;border-radius:4px;"></div>
<svg style="position:absolute;left:1635px;top:1119.4px;overflow:visible;" width="13" height="13" viewBox="1635 1119.4 13 13"><path d="M1641.5 1120.4 A5.5 5.5 0 1 0 1647 1125.9" fill="none" stroke="#2e7fe6" stroke-width="2.6"/><path d="M1643 1120.7 A5 5 0 0 1 1646.8 1124.3000000000002" fill="none" stroke="#2e7fe6" stroke-width="2" opacity="0.6"/></svg>
<div style="position:absolute;left:1653.0px;top:1119.3px;font-size:13.5px;line-height:13.5px;color:#2e7fe6;white-space:nowrap;">Proportion</div>
<svg style="position:absolute;left:1736px;top:1119.9px;overflow:visible;" width="14" height="12" viewBox="1736 1119.9 14 12"><rect x="1736.6" y="1120.5" width="13" height="10.8" fill="none" stroke="#555" stroke-width="1.2"/><rect x="1736.6" y="1120.5" width="13" height="1.6" fill="#555"/><line x1="1736.6" x2="1749.6" y1="1123.2" y2="1123.2" stroke="#555" stroke-width="0.75"/><line x1="1736.6" x2="1749.6" y1="1125.9" y2="1125.9" stroke="#555" stroke-width="0.75"/><line x1="1736.6" x2="1749.6" y1="1128.6" y2="1128.6" stroke="#555" stroke-width="0.75"/><line x1="1740.9" x2="1740.9" y1="1120.5" y2="1131.3000000000002" stroke="#555" stroke-width="0.75"/><line x1="1745.3" x2="1745.3" y1="1120.5" y2="1131.3000000000002" stroke="#555" stroke-width="0.75"/></svg>
<div style="position:absolute;left:1754.0px;top:1119.3px;font-size:13.5px;line-height:13.5px;color:#333;white-space:nowrap;">Detail</div>
<div style="position:absolute;left:32.0px;top:1150.5px;width:1769.0px;height:1.0px;background:#e8e9eb;border-radius:0px;"></div>
<svg style="position:absolute;left:280px;top:1160px;overflow:visible;" width="700" height="360" viewBox="280 1160 700 360"><path d="M621.70 1202.00 A142.5 142.5 0 1 1 484.97 1304.35 L521.19 1314.99 A104.75 104.75 0 1 0 621.70 1239.75 Z" fill="#389bfa" stroke="#fff" stroke-width="5" stroke-linejoin="miter"/><path d="M484.97 1304.35 A142.5 142.5 0 0 1 528.38 1236.81 L553.10 1265.34 A104.75 104.75 0 0 0 521.19 1314.99 Z" fill="#2fc5ca" stroke="#fff" stroke-width="5" stroke-linejoin="miter"/><path d="M528.38 1236.81 A142.5 142.5 0 0 1 544.66 1224.62 L565.07 1256.38 A104.75 104.75 0 0 0 553.10 1265.34 Z" fill="#5a6b8c" stroke="#fff" stroke-width="5" stroke-linejoin="miter"/><path d="M544.66 1224.62 A142.5 142.5 0 0 1 562.50 1214.88 L578.19 1249.22 A104.75 104.75 0 0 0 565.07 1256.38 Z" fill="#fccb3a" stroke="#fff" stroke-width="5" stroke-linejoin="miter"/><path d="M562.50 1214.88 A142.5 142.5 0 0 1 581.55 1207.77 L592.19 1243.99 A104.75 104.75 0 0 0 578.19 1249.22 Z" fill="#e76666" stroke="#fff" stroke-width="5" stroke-linejoin="miter"/><path d="M581.55 1207.77 A142.5 142.5 0 0 1 601.42 1203.45 L606.79 1240.82 A104.75 104.75 0 0 0 592.19 1243.99 Z" fill="#9c63c9" stroke="#fff" stroke-width="5" stroke-linejoin="miter"/><path d="M601.42 1203.45 A142.5 142.5 0 0 1 621.70 1202.00 L621.70 1239.75 A104.75 104.75 0 0 0 606.79 1240.82 Z" fill="#6fc3e6" stroke="#fff" stroke-width="5" stroke-linejoin="miter"/><text x="621.7" y="1339.9" font-size="13.5" fill="#8a8a8a" text-anchor="middle" >Total Trades Sum</text><text x="621.7" y="1372.4" font-size="24.5" fill="#222" text-anchor="middle" >44</text><text x="390.6" y="1181.3" font-size="12" fill="#666" text-anchor="start" >5006000</text><text x="390.6" y="1203.6" font-size="12" fill="#666" text-anchor="start" >Trades Sum: 1</text><text x="390.6" y="1225.9" font-size="12" fill="#666" text-anchor="start" >Proportion: 2.27%</text><polyline points="499,1200 569,1200 573,1210" fill="none" stroke="#ea8a8a" stroke-width="1"/><text x="315.0" y="1242.3" font-size="12" fill="#666" text-anchor="start" >00330000</text><text x="315.0" y="1264.6" font-size="12" fill="#666" text-anchor="start" >Trades Sum: 4</text><text x="315.0" y="1286.9" font-size="12" fill="#666" text-anchor="start" >Proportion: 9.09%</text><polyline points="423.5,1260.6 494.7,1260.6 500,1266" fill="none" stroke="#5bc0de" stroke-width="1"/><text x="788.0" y="1448.3" font-size="12" fill="#666" text-anchor="start" >50030090</text><text x="788.0" y="1470.3" font-size="12" fill="#666" text-anchor="start" >Trades Sum: 35</text><text x="788.0" y="1492.3" font-size="12" fill="#666" text-anchor="start" >Proportion: 79.55%</text><polyline points="710,1461 715,1466 782.7,1466" fill="none" stroke="#389bfa" stroke-width="1"/></svg>
<div style="position:absolute;left:1211.6px;top:1163.7px;width:589.0px;height:39.3px;background:#eaf3fe;border-radius:0px;"></div>
<div style="position:absolute;left:1211.6px;top:1203.0px;width:589.0px;height:193.9px;background:#fff;border-radius:0px;border:1px solid #eceef1;border-top:none;box-sizing:border-box;"></div>
<div style="position:absolute;left:1212.6px;top:1230.7px;width:587.0px;height:27.7px;background:#f9fafc;border-radius:0px;"></div>
<div style="position:absolute;left:1211.6px;top:1230.7px;width:589.0px;height:1.0px;background:#f0f1f3;border-radius:0px;"></div>
<div style="position:absolute;left:1211.6px;top:1258.4px;width:589.0px;height:1.0px;background:#f0f1f3;border-radius:0px;"></div>
<div style="position:absolute;left:1212.6px;top:1286.1px;width:587.0px;height:27.7px;background:#f9fafc;border-radius:0px;"></div>
<div style="position:absolute;left:1211.6px;top:1286.1px;width:589.0px;height:1.0px;background:#f0f1f3;border-radius:0px;"></div>
<div style="position:absolute;left:1211.6px;top:1313.8px;width:589.0px;height:1.0px;background:#f0f1f3;border-radius:0px;"></div>
<div style="position:absolute;left:1212.6px;top:1341.5px;width:587.0px;height:27.7px;background:#f9fafc;border-radius:0px;"></div>
<div style="position:absolute;left:1211.6px;top:1341.5px;width:589.0px;height:1.0px;background:#f0f1f3;border-radius:0px;"></div>
<div style="position:absolute;left:1211.6px;top:1369.2px;width:589.0px;height:1.0px;background:#f0f1f3;border-radius:0px;"></div>
<div style="position:absolute;left:1363.3px;top:1163.7px;width:1.0px;height:39.3px;background:#6b6f75;border-radius:0px;"></div>
<div style="position:absolute;left:1363.3px;top:1203.0px;width:1.0px;height:193.9px;background:#eceef1;border-radius:0px;"></div>
<div style="position:absolute;left:1622.5px;top:1163.7px;width:1.0px;height:39.3px;background:#6b6f75;border-radius:0px;"></div>
<div style="position:absolute;left:1622.5px;top:1203.0px;width:1.0px;height:193.9px;background:#eceef1;border-radius:0px;"></div>
<div style="position:absolute;left:1799.6px;top:1163.7px;width:1.0px;height:39.3px;background:#6b6f75;border-radius:0px;"></div>
<div style="position:absolute;left:1224.1px;top:1177.5px;font-size:12px;line-height:12px;color:#222;white-space:nowrap;font-weight:700;">TOP 10</div>
<div style="position:absolute;left:1224.1px;top:1211.3px;font-size:11.5px;line-height:11.5px;color:#333;white-space:nowrap;">50030090</div>
<div style="position:absolute;left:1224.1px;top:1239.0px;font-size:11.5px;line-height:11.5px;color:#333;white-space:nowrap;">00330000</div>
<div style="position:absolute;left:1224.1px;top:1266.7px;font-size:11.5px;line-height:11.5px;color:#333;white-space:nowrap;">09071000000</div>
<div style="position:absolute;left:1224.1px;top:1294.4px;font-size:11.5px;line-height:11.5px;color:#333;white-space:nowrap;">392490</div>
<div style="position:absolute;left:1224.1px;top:1322.1px;font-size:11.5px;line-height:11.5px;color:#333;white-space:nowrap;">5006000</div>
<div style="position:absolute;left:1224.1px;top:1349.8px;font-size:11.5px;line-height:11.5px;color:#333;white-space:nowrap;">82000000</div>
<div style="position:absolute;left:1224.1px;top:1377.5px;font-size:11.5px;line-height:11.5px;color:#333;white-space:nowrap;">N/A</div>
<div style="position:absolute;left:1375.8px;top:1177.5px;font-size:12px;line-height:12px;color:#222;white-space:nowrap;font-weight:700;">HS Code Description</div>
<div style="position:absolute;left:1375.8px;top:1211.3px;font-size:11.5px;line-height:11.5px;color:#333;white-space:nowrap;">Silk waste, incl. cocoons unsuitable for ree...</div>
<div style="position:absolute;left:1375.8px;top:1239.0px;font-size:11.5px;line-height:11.5px;color:#333;white-space:nowrap;"></div>
<div style="position:absolute;left:1375.8px;top:1266.7px;font-size:11.5px;line-height:11.5px;color:#333;white-space:nowrap;">Cloves, whole fruit, cloves and stems, neit...</div>
<div style="position:absolute;left:1375.8px;top:1294.4px;font-size:11.5px;line-height:11.5px;color:#333;white-space:nowrap;">Household articles and toilet articles, of pl...</div>
<div style="position:absolute;left:1375.8px;top:1322.1px;font-size:11.5px;line-height:11.5px;color:#333;white-space:nowrap;">Silk yarn and yarn spun from silk waste, p...</div>
<div style="position:absolute;left:1375.8px;top:1349.8px;font-size:11.5px;line-height:11.5px;color:#333;white-space:nowrap;"></div>
<div style="position:absolute;left:1375.8px;top:1377.5px;font-size:11.5px;line-height:11.5px;color:#333;white-space:nowrap;"></div>
<div style="position:absolute;left:1788.6px;top:1177.5px;font-size:12px;line-height:12px;color:#222;white-space:nowrap;font-weight:700;transform:translateX(-100%);">Trades Sum</div>
<div style="position:absolute;left:1788.6px;top:1211.3px;font-size:11.5px;line-height:11.5px;color:#333;white-space:nowrap;transform:translateX(-100%);">35</div>
<div style="position:absolute;left:1788.6px;top:1239.0px;font-size:11.5px;line-height:11.5px;color:#333;white-space:nowrap;transform:translateX(-100%);">4</div>
<div style="position:absolute;left:1788.6px;top:1266.7px;font-size:11.5px;line-height:11.5px;color:#333;white-space:nowrap;transform:translateX(-100%);">1</div>
<div style="position:absolute;left:1788.6px;top:1294.4px;font-size:11.5px;line-height:11.5px;color:#333;white-space:nowrap;transform:translateX(-100%);">1</div>
<div style="position:absolute;left:1788.6px;top:1322.1px;font-size:11.5px;line-height:11.5px;color:#333;white-space:nowrap;transform:translateX(-100%);">1</div>
<div style="position:absolute;left:1788.6px;top:1349.8px;font-size:11.5px;line-height:11.5px;color:#333;white-space:nowrap;transform:translateX(-100%);">1</div>
<div style="position:absolute;left:1788.6px;top:1377.5px;font-size:11.5px;line-height:11.5px;color:#333;white-space:nowrap;transform:translateX(-100%);">1</div>
<div style="position:absolute;left:9.0px;top:1549.0px;width:1818.0px;height:538.0px;background:#fff;border-radius:6px;"></div>
<div style="position:absolute;left:33.0px;top:1567.9px;font-size:16px;line-height:16px;color:#222;white-space:nowrap;">Supply Chain Analysis</div>
<div style="position:absolute;left:1421.7px;top:1560.2px;width:373.0px;height:31.0px;background:#f2f5f9;border-radius:4px;"></div>
<div style="position:absolute;left:1421.7px;top:1560.2px;width:92.0px;height:31.0px;background:#e3eefc;border-radius:4px;"></div>
<div style="position:absolute;left:1467.7px;top:1569.4px;font-size:13px;line-height:13px;color:#2e7fe6;white-space:nowrap;transform:translateX(-50%);">Trades Sum</div>
<div style="position:absolute;left:1555.2px;top:1569.4px;font-size:13px;line-height:13px;color:#333;white-space:nowrap;transform:translateX(-50%);">Kg weight</div>
<div style="position:absolute;left:1633.2px;top:1569.4px;font-size:13px;line-height:13px;color:#333;white-space:nowrap;transform:translateX(-50%);">quantity</div>
<div style="position:absolute;left:1732.2px;top:1569.4px;font-size:13px;line-height:13px;color:#333;white-space:nowrap;transform:translateX(-50%);">Total price (USD)</div>
<div style="position:absolute;left:33.0px;top:1600.7px;width:1770.0px;height:1.0px;background:#e8e9eb;border-radius:0px;"></div>
<svg style="position:absolute;left:0px;top:1610px;overflow:visible;" width="1835" height="470" viewBox="0 1610 1835 470"><path d="M271.9 1664.4 C499.4 1664.4 499.4 1834.6 727 1834.6" fill="none" stroke="#c8c8c8" stroke-width="1"/><path d="M271.9 1702.3 C499.4 1702.3 499.4 1834.6 727 1834.6" fill="none" stroke="#c8c8c8" stroke-width="1"/><path d="M271.9 1740.2 C499.4 1740.2 499.4 1834.6 727 1834.6" fill="none" stroke="#c8c8c8" stroke-width="1"/><path d="M271.9 1778.1 C499.4 1778.1 499.4 1834.6 727 1834.6" fill="none" stroke="#c8c8c8" stroke-width="1"/><path d="M271.9 1816.0 C499.4 1816.0 499.4 1834.6 727 1834.6" fill="none" stroke="#c8c8c8" stroke-width="1"/><path d="M271.9 1853.9 C499.4 1853.9 499.4 1834.6 727 1834.6" fill="none" stroke="#c8c8c8" stroke-width="1"/><path d="M271.9 1891.8 C499.4 1891.8 499.4 1834.6 727 1834.6" fill="none" stroke="#c8c8c8" stroke-width="1"/><path d="M271.9 1929.7 C499.4 1929.7 499.4 1834.6 727 1834.6" fill="none" stroke="#c8c8c8" stroke-width="1"/><path d="M271.9 1967.6 C499.4 1967.6 499.4 1834.6 727 1834.6" fill="none" stroke="#c8c8c8" stroke-width="1"/><path d="M271.9 2005.5 C499.4 2005.5 499.4 1834.6 727 1834.6" fill="none" stroke="#c8c8c8" stroke-width="1"/><circle cx="271.9" cy="1664.4" r="3.2" fill="#e6852a"/><text x="263.4" y="1661.7" font-size="12" fill="#666" text-anchor="end" >A S R SILK</text><text x="263.4" y="1677.7" font-size="12" fill="#666" text-anchor="end" >Trades Sum: 25</text><circle cx="271.9" cy="1702.3" r="3.2" fill="#e6852a"/><text x="263.4" y="1699.6" font-size="12" fill="#666" text-anchor="end" >A I S SILKS</text><text x="263.4" y="1715.6" font-size="12" fill="#666" text-anchor="end" >Trades Sum: 6</text><circle cx="271.9" cy="1740.2" r="3.2" fill="#e6852a"/><text x="263.4" y="1737.5" font-size="12" fill="#666" text-anchor="end" >S A SILK S</text><text x="263.4" y="1753.5" font-size="12" fill="#666" text-anchor="end" >Trades Sum: 4</text><circle cx="271.9" cy="1778.1" r="3.2" fill="#e6852a"/><text x="263.4" y="1775.4" font-size="12" fill="#666" text-anchor="end" >BETTAMARK COMERCIO E...</text><text x="263.4" y="1791.4" font-size="12" fill="#666" text-anchor="end" >Trades Sum: 2</text><circle cx="271.9" cy="1816.0" r="3.2" fill="#e6852a"/><text x="263.4" y="1813.3" font-size="12" fill="#666" text-anchor="end" >A.S.R. SILKS</text><text x="263.4" y="1829.3" font-size="12" fill="#666" text-anchor="end" >Trades Sum: 1</text><circle cx="271.9" cy="1853.9" r="3.2" fill="#e6852a"/><text x="263.4" y="1851.2" font-size="12" fill="#666" text-anchor="end" >JACOB FOODS LIMITED ...</text><text x="263.4" y="1867.2" font-size="12" fill="#666" text-anchor="end" >Trades Sum: 1</text><circle cx="271.9" cy="1891.8" r="3.2" fill="#e6852a"/><text x="263.4" y="1889.1" font-size="12" fill="#666" text-anchor="end" >SEAMATES INTERNATION...</text><text x="263.4" y="1905.1" font-size="12" fill="#666" text-anchor="end" >Trades Sum: 1</text><circle cx="271.9" cy="1929.7" r="3.2" fill="#e6852a"/><text x="263.4" y="1927.0" font-size="12" fill="#666" text-anchor="end" >TRAMONTINA FARROUPIL...</text><text x="263.4" y="1943.0" font-size="12" fill="#666" text-anchor="end" >Trades Sum: 1</text><circle cx="271.9" cy="1967.6" r="3.2" fill="#e6852a"/><text x="263.4" y="1964.9" font-size="12" fill="#666" text-anchor="end" >TRAMONTINA GARIBALDI...</text><text x="263.4" y="1980.9" font-size="12" fill="#666" text-anchor="end" >Trades Sum: 1</text><circle cx="271.9" cy="2005.5" r="3.2" fill="#e6852a"/><text x="263.4" y="2002.8" font-size="12" fill="#666" text-anchor="end" >TRAMONTINA MULTI SA</text><text x="263.4" y="2018.8" font-size="12" fill="#666" text-anchor="end" >Trades Sum: 1</text><path d="M1109.5 1834.6 C1336.7 1834.6 1336.7 1740 1563.9 1740" fill="none" stroke="#c8c8c8" stroke-width="1"/><circle cx="1563.9" cy="1740" r="3.2" fill="#0b5a91"/><text x="1572.0" y="1737.3" font-size="12" fill="#666" text-anchor="start" >CARIB FOODS DISTRIBU...</text><text x="1572.0" y="1753.8" font-size="12" fill="#666" text-anchor="start" >Trades Sum: 1</text><path d="M1109.5 1834.6 C1336.7 1834.6 1336.7 1929.5 1563.9 1929.5" fill="none" stroke="#c8c8c8" stroke-width="1"/><circle cx="1563.9" cy="1929.5" r="3.2" fill="#0b5a91"/><text x="1572.0" y="1926.8" font-size="12" fill="#666" text-anchor="start" >JOCOTT BRANDS,INC.</text><text x="1572.0" y="1943.3" font-size="12" fill="#666" text-anchor="start" >Trades Sum: 1</text><ellipse cx="762.5" cy="1834.6" rx="35.7" ry="29.8" fill="#e6852a"/><text x="762.5" y="1838.7" font-size="13" fill="#f4f0ec" text-anchor="middle" >Exporter</text><circle cx="917.9" cy="1837.5" r="105.3" fill="#fff" stroke="#dcdcdc" stroke-width="1"/><text x="917.9" y="1838.8" font-size="16" fill="#222" text-anchor="middle" >Island Importer</text><ellipse cx="1073.5" cy="1834.6" rx="36" ry="29.8" fill="#0b5a91"/><text x="1073.5" y="1838.7" font-size="13" fill="#eef2f6" text-anchor="middle" >Importer</text></svg>
<div style="position:absolute;left:6.0px;top:2101.6px;width:1821.0px;height:434.4px;background:#fff;border-radius:6px;"></div>
<div style="position:absolute;left:30.0px;top:2120.2px;font-size:16px;line-height:16px;color:#222;white-space:nowrap;">Exporter Analysis</div>
<div style="position:absolute;left:1243.2px;top:2112.6px;width:373.0px;height:31.0px;background:#f2f5f9;border-radius:4px;"></div>
<div style="position:absolute;left:1243.2px;top:2112.6px;width:92.0px;height:31.0px;background:#e3eefc;border-radius:4px;"></div>
<div style="position:absolute;left:1289.2px;top:2121.8px;font-size:13px;line-height:13px;color:#2e7fe6;white-space:nowrap;transform:translateX(-50%);">Trades Sum</div>
<div style="position:absolute;left:1376.7px;top:2121.8px;font-size:13px;line-height:13px;color:#333;white-space:nowrap;transform:translateX(-50%);">Kg weight</div>
<div style="position:absolute;left:1454.7px;top:2121.8px;font-size:13px;line-height:13px;color:#333;white-space:nowrap;transform:translateX(-50%);">quantity</div>
<div style="position:absolute;left:1553.7px;top:2121.8px;font-size:13px;line-height:13px;color:#333;white-space:nowrap;transform:translateX(-50%);">Total price (USD)</div>
<div style="position:absolute;left:1625.7px;top:2112.6px;width:176.0px;height:31.0px;background:#f2f5f9;border-radius:4px;"></div>
<div style="position:absolute;left:1625.7px;top:2112.6px;width:101.0px;height:31.0px;background:#e3eefc;border-radius:4px;"></div>
<svg style="position:absolute;left:1636.7px;top:2121.6px;overflow:visible;" width="13" height="13" viewBox="1636.7 2121.6 13 13"><path d="M1643.2 2122.6 A5.5 5.5 0 1 0 1648.7 2128.1" fill="none" stroke="#2e7fe6" stroke-width="2.6"/><path d="M1644.7 2122.9 A5 5 0 0 1 1648.5 2126.5" fill="none" stroke="#2e7fe6" stroke-width="2" opacity="0.6"/></svg>
<div style="position:absolute;left:1654.7px;top:2121.5px;font-size:13.5px;line-height:13.5px;color:#2e7fe6;white-space:nowrap;">Proportion</div>
<svg style="position:absolute;left:1737.7px;top:2122.1px;overflow:visible;" width="14" height="12" viewBox="1737.7 2122.1 14 12"><rect x="1738.3" y="2122.7" width="13" height="10.8" fill="none" stroke="#555" stroke-width="1.2"/><rect x="1738.3" y="2122.7" width="13" height="1.6" fill="#555"/><line x1="1738.3" x2="1751.3" y1="2125.4" y2="2125.4" stroke="#555" stroke-width="0.75"/><line x1="1738.3" x2="1751.3" y1="2128.1" y2="2128.1" stroke="#555" stroke-width="0.75"/><line x1="1738.3" x2="1751.3" y1="2130.8" y2="2130.8" stroke="#555" stroke-width="0.75"/><line x1="1742.6" x2="1742.6" y1="2122.7" y2="2133.5" stroke="#555" stroke-width="0.75"/><line x1="1747.0" x2="1747.0" y1="2122.7" y2="2133.5" stroke="#555" stroke-width="0.75"/></svg>
<div style="position:absolute;left:1755.7px;top:2121.5px;font-size:13.5px;line-height:13.5px;color:#333;white-space:nowrap;">Detail</div>
<div style="position:absolute;left:30.0px;top:2152.7px;width:1772.0px;height:1.0px;background:#e8e9eb;border-radius:0px;"></div>
<svg style="position:absolute;left:280px;top:2170px;overflow:visible;" width="700" height="340" viewBox="280 2170 700 340"><path d="M621.00 2202.10 A137.3 137.3 0 1 1 563.96 2464.29 L579.17 2431.00 A100.7 100.7 0 1 0 621.00 2238.70 Z" fill="#389bfa" stroke="#fff" stroke-width="5" stroke-linejoin="miter"/><path d="M563.96 2464.29 A137.3 137.3 0 0 1 489.26 2378.08 L524.38 2367.77 A100.7 100.7 0 0 0 579.17 2431.00 Z" fill="#2fc5ca" stroke="#fff" stroke-width="5" stroke-linejoin="miter"/><path d="M489.26 2378.08 A137.3 137.3 0 0 1 489.26 2300.72 L524.38 2311.03 A100.7 100.7 0 0 0 524.38 2367.77 Z" fill="#5a6b8c" stroke="#fff" stroke-width="5" stroke-linejoin="miter"/><path d="M489.26 2300.72 A137.3 137.3 0 0 1 505.50 2265.17 L536.29 2284.96 A100.7 100.7 0 0 0 524.38 2311.03 Z" fill="#fccb3a" stroke="#fff" stroke-width="5" stroke-linejoin="miter"/><path d="M505.50 2265.17 A137.3 137.3 0 0 1 517.24 2249.49 L544.90 2273.46 A100.7 100.7 0 0 0 536.29 2284.96 Z" fill="#e76666" stroke="#fff" stroke-width="5" stroke-linejoin="miter"/><path d="M517.24 2249.49 A137.3 137.3 0 0 1 531.09 2235.64 L555.06 2263.30 A100.7 100.7 0 0 0 544.90 2273.46 Z" fill="#9c63c9" stroke="#fff" stroke-width="5" stroke-linejoin="miter"/><path d="M531.09 2235.64 A137.3 137.3 0 0 1 546.77 2223.90 L566.56 2254.69 A100.7 100.7 0 0 0 555.06 2263.30 Z" fill="#6fc3e6" stroke="#fff" stroke-width="5" stroke-linejoin="miter"/><path d="M546.77 2223.90 A137.3 137.3 0 0 1 563.96 2214.51 L579.17 2247.80 A100.7 100.7 0 0 0 566.56 2254.69 Z" fill="#ef9634" stroke="#fff" stroke-width="5" stroke-linejoin="miter"/><path d="M563.96 2214.51 A137.3 137.3 0 0 1 582.32 2207.66 L592.63 2242.78 A100.7 100.7 0 0 0 579.17 2247.80 Z" fill="#1d8c96" stroke="#fff" stroke-width="5" stroke-linejoin="miter"/><path d="M582.32 2207.66 A137.3 137.3 0 0 1 601.46 2203.50 L606.67 2239.72 A100.7 100.7 0 0 0 592.63 2242.78 Z" fill="#e6a3c6" stroke="#fff" stroke-width="5" stroke-linejoin="miter"/><path d="M601.46 2203.50 A137.3 137.3 0 0 1 621.00 2202.10 L621.00 2238.70 A100.7 100.7 0 0 0 606.67 2239.72 Z" fill="#d2e5fb" stroke="#fff" stroke-width="5" stroke-linejoin="miter"/><text x="621.0" y="2336.4" font-size="13.5" fill="#8a8a8a" text-anchor="middle" >Total Trades Sum</text><text x="621.0" y="2366.5" font-size="24.5" fill="#222" text-anchor="middle" >44</text><text x="840.7" y="2352.1" font-size="12" fill="#666" text-anchor="start" >A S R SILK</text><text x="840.7" y="2374.2" font-size="12" fill="#666" text-anchor="start" >Trades Sum: 25</text><text x="840.7" y="2396.3" font-size="12" fill="#666" text-anchor="start" >Proportion: 56.82%</text><polyline points="757.6,2369.3 835,2369.9" fill="none" stroke="#389bfa" stroke-width="1"/><text x="324.7" y="2416.6" font-size="12" fill="#666" text-anchor="start" >A I S SILKS</text><text x="324.7" y="2438.7" font-size="12" fill="#666" text-anchor="start" >Trades Sum: 6</text><text x="324.7" y="2460.8" font-size="12" fill="#666" text-anchor="start" >Proportion: 13.64%</text><polyline points="439.8,2435 509.5,2435 514,2430" fill="none" stroke="#5bc0de" stroke-width="1"/><text x="295.7" y="2320.7" font-size="12" fill="#666" text-anchor="start" >S A SILK S</text><text x="295.7" y="2342.5" font-size="12" fill="#666" text-anchor="start" >Trades Sum: 4</text><text x="295.7" y="2364.3" font-size="12" fill="#666" text-anchor="start" >Proportion: 9.09%</text><polyline points="403.8,2338.5 480.5,2338.5" fill="none" stroke="#7a889f" stroke-width="1"/><text x="292.8" y="2259.7" font-size="12" fill="#666" text-anchor="start" >BETTAMARK COME...</text><text x="292.8" y="2281.5" font-size="12" fill="#666" text-anchor="start" >Trades Sum: 2</text><text x="292.8" y="2303.3" font-size="12" fill="#666" text-anchor="start" >Proportion: 4.55%</text><polyline points="417.7,2277 489,2277 495,2280.4" fill="none" stroke="#e0c79a" stroke-width="1"/><text x="349.7" y="2202.2" font-size="12" fill="#666" text-anchor="start" >SEAMATES INTER...</text><text x="349.7" y="2224.5" font-size="12" fill="#666" text-anchor="start" >Trades Sum: 1</text><text x="349.7" y="2246.8" font-size="12" fill="#666" text-anchor="start" >Proportion: 2.27%</text><polyline points="463,2220.5 532.8,2220.5 537.4,2226.4" fill="none" stroke="#8ecdf0" stroke-width="1"/></svg>
<div style="position:absolute;left:1212.6px;top:2165.9px;width:589.6px;height:39.5px;background:#eaf3fe;border-radius:0px;"></div>
<div style="position:absolute;left:1212.6px;top:2205.4px;width:589.6px;height:276.0px;background:#fff;border-radius:0px;border:1px solid #eceef1;border-top:none;box-sizing:border-box;"></div>
<div style="position:absolute;left:1213.6px;top:2233.0px;width:587.6px;height:27.6px;background:#f9fafc;border-radius:0px;"></div>
<div style="position:absolute;left:1212.6px;top:2233.0px;width:589.6px;height:1.0px;background:#f0f1f3;border-radius:0px;"></div>
<div style="position:absolute;left:1212.6px;top:2260.6px;width:589.6px;height:1.0px;background:#f0f1f3;border-radius:0px;"></div>
<div style="position:absolute;left:1213.6px;top:2288.2px;width:587.6px;height:27.6px;background:#f9fafc;border-radius:0px;"></div>
<div style="position:absolute;left:1212.6px;top:2288.2px;width:589.6px;height:1.0px;background:#f0f1f3;border-radius:0px;"></div>
<div style="position:absolute;left:1212.6px;top:2315.8px;width:589.6px;height:1.0px;background:#f0f1f3;border-radius:0px;"></div>
<div style="position:absolute;left:1213.6px;top:2343.4px;width:587.6px;height:27.6px;background:#f9fafc;border-radius:0px;"></div>
<div style="position:absolute;left:1212.6px;top:2343.4px;width:589.6px;height:1.0px;background:#f0f1f3;border-radius:0px;"></div>
<div style="position:absolute;left:1212.6px;top:2371.0px;width:589.6px;height:1.0px;background:#f0f1f3;border-radius:0px;"></div>
<div style="position:absolute;left:1213.6px;top:2398.6px;width:587.6px;height:27.6px;background:#f9fafc;border-radius:0px;"></div>
<div style="position:absolute;left:1212.6px;top:2398.6px;width:589.6px;height:1.0px;background:#f0f1f3;border-radius:0px;"></div>
<div style="position:absolute;left:1212.6px;top:2426.2px;width:589.6px;height:1.0px;background:#f0f1f3;border-radius:0px;"></div>
<div style="position:absolute;left:1213.6px;top:2453.8px;width:587.6px;height:27.6px;background:#f9fafc;border-radius:0px;"></div>
<div style="position:absolute;left:1212.6px;top:2453.8px;width:589.6px;height:1.0px;background:#f0f1f3;border-radius:0px;"></div>
<div style="position:absolute;left:1600.4px;top:2165.9px;width:1.0px;height:39.5px;background:#6b6f75;border-radius:0px;"></div>
<div style="position:absolute;left:1600.4px;top:2205.4px;width:1.0px;height:276.0px;background:#eceef1;border-radius:0px;"></div>
<div style="position:absolute;left:1801.2px;top:2165.9px;width:1.0px;height:39.5px;background:#6b6f75;border-radius:0px;"></div>
<div style="position:absolute;left:1225.1px;top:2179.8px;font-size:12px;line-height:12px;color:#222;white-space:nowrap;font-weight:700;">TOP 10</div>
<div style="position:absolute;left:1225.1px;top:2213.6px;font-size:11.5px;line-height:11.5px;color:#333;white-space:nowrap;">1.A S R SILK</div>
<div style="position:absolute;left:1225.1px;top:2241.2px;font-size:11.5px;line-height:11.5px;color:#333;white-space:nowrap;">2.A I S SILKS</div>
<div style="position:absolute;left:1225.1px;top:2268.8px;font-size:11.5px;line-height:11.5px;color:#333;white-space:nowrap;">3.S A SILK S</div>
<div style="position:absolute;left:1225.1px;top:2296.4px;font-size:11.5px;line-height:11.5px;color:#333;white-space:nowrap;">4.BETTAMARK COMERCIO EXTERIOR LTDA</div>
<div style="position:absolute;left:1225.1px;top:2324.0px;font-size:11.5px;line-height:11.5px;color:#333;white-space:nowrap;">5.A.S.R. SILKS</div>
<div style="position:absolute;left:1225.1px;top:2351.6px;font-size:11.5px;line-height:11.5px;color:#333;white-space:nowrap;">6.JACOB FOODS LIMITED KAMPALA RUBAGA DIVISION NORTH...</div>
<div style="position:absolute;left:1225.1px;top:2379.2px;font-size:11.5px;line-height:11.5px;color:#333;white-space:nowrap;">7.SEAMATES INTERNATIONAL INC</div>
<div style="position:absolute;left:1225.1px;top:2406.8px;font-size:11.5px;line-height:11.5px;color:#333;white-space:nowrap;">8.TRAMONTINA FARROUPILHA SA INDUSTRIA METALURGICA</div>
<div style="position:absolute;left:1225.1px;top:2434.4px;font-size:11.5px;line-height:11.5px;color:#333;white-space:nowrap;">9.TRAMONTINA GARIBALDI SA INDUSTRIA METALURGICA</div>
<div style="position:absolute;left:1225.1px;top:2462.0px;font-size:11.5px;line-height:11.5px;color:#333;white-space:nowrap;">10.TRAMONTINA MULTI SA</div>
<div style="position:absolute;left:1790.2px;top:2179.8px;font-size:12px;line-height:12px;color:#222;white-space:nowrap;font-weight:700;transform:translateX(-100%);">Trades Sum</div>
<div style="position:absolute;left:1790.2px;top:2213.6px;font-size:11.5px;line-height:11.5px;color:#333;white-space:nowrap;transform:translateX(-100%);">25</div>
<div style="position:absolute;left:1790.2px;top:2241.2px;font-size:11.5px;line-height:11.5px;color:#333;white-space:nowrap;transform:translateX(-100%);">6</div>
<div style="position:absolute;left:1790.2px;top:2268.8px;font-size:11.5px;line-height:11.5px;color:#333;white-space:nowrap;transform:translateX(-100%);">4</div>
<div style="position:absolute;left:1790.2px;top:2296.4px;font-size:11.5px;line-height:11.5px;color:#333;white-space:nowrap;transform:translateX(-100%);">2</div>
<div style="position:absolute;left:1790.2px;top:2324.0px;font-size:11.5px;line-height:11.5px;color:#333;white-space:nowrap;transform:translateX(-100%);">1</div>
<div style="position:absolute;left:1790.2px;top:2351.6px;font-size:11.5px;line-height:11.5px;color:#333;white-space:nowrap;transform:translateX(-100%);">1</div>
<div style="position:absolute;left:1790.2px;top:2379.2px;font-size:11.5px;line-height:11.5px;color:#333;white-space:nowrap;transform:translateX(-100%);">1</div>
<div style="position:absolute;left:1790.2px;top:2406.8px;font-size:11.5px;line-height:11.5px;color:#333;white-space:nowrap;transform:translateX(-100%);">1</div>
<div style="position:absolute;left:1790.2px;top:2434.4px;font-size:11.5px;line-height:11.5px;color:#333;white-space:nowrap;transform:translateX(-100%);">1</div>
<div style="position:absolute;left:1790.2px;top:2462.0px;font-size:11.5px;line-height:11.5px;color:#333;white-space:nowrap;transform:translateX(-100%);">1</div>
<div style="position:absolute;left:3.0px;top:2558.0px;width:1829.0px;height:840.4px;background:#fff;border-radius:6px;"></div>
<div style="position:absolute;left:28.0px;top:2565.4px;font-size:16px;line-height:16px;color:#222;white-space:nowrap;">Origin Analysis</div>
<div style="position:absolute;left:1245.5px;top:2557.3px;width:373.0px;height:31.0px;background:#f2f5f9;border-radius:4px;"></div>
<div style="position:absolute;left:1245.5px;top:2557.3px;width:92.0px;height:31.0px;background:#e3eefc;border-radius:4px;"></div>
<div style="position:absolute;left:1291.5px;top:2566.5px;font-size:13px;line-height:13px;color:#2e7fe6;white-space:nowrap;transform:translateX(-50%);">Trades Sum</div>
<div style="position:absolute;left:1379.0px;top:2566.5px;font-size:13px;line-height:13px;color:#333;white-space:nowrap;transform:translateX(-50%);">Kg weight</div>
<div style="position:absolute;left:1457.0px;top:2566.5px;font-size:13px;line-height:13px;color:#333;white-space:nowrap;transform:translateX(-50%);">quantity</div>
<div style="position:absolute;left:1556.0px;top:2566.5px;font-size:13px;line-height:13px;color:#333;white-space:nowrap;transform:translateX(-50%);">Total price (USD)</div>
<div style="position:absolute;left:1629.4px;top:2557.3px;width:176.0px;height:31.0px;background:#f2f5f9;border-radius:4px;"></div>
<div style="position:absolute;left:1629.4px;top:2557.3px;width:101.0px;height:31.0px;background:#e3eefc;border-radius:4px;"></div>
<svg style="position:absolute;left:1640.4px;top:2566.3px;overflow:visible;" width="13" height="13" viewBox="1640.4 2566.3 13 13"><path d="M1646.9 2567.3 A5.5 5.5 0 1 0 1652.4 2572.8" fill="none" stroke="#2e7fe6" stroke-width="2.6"/><path d="M1648.4 2567.6000000000004 A5 5 0 0 1 1652.2 2571.2000000000003" fill="none" stroke="#2e7fe6" stroke-width="2" opacity="0.6"/></svg>
<div style="position:absolute;left:1658.4px;top:2566.2px;font-size:13.5px;line-height:13.5px;color:#2e7fe6;white-space:nowrap;">Proportion</div>
<svg style="position:absolute;left:1741.4px;top:2566.8px;overflow:visible;" width="14" height="12" viewBox="1741.4 2566.8 14 12"><rect x="1742.0" y="2567.4" width="13" height="10.8" fill="none" stroke="#555" stroke-width="1.2"/><rect x="1742.0" y="2567.4" width="13" height="1.6" fill="#555"/><line x1="1742.0" x2="1755.0" y1="2570.1" y2="2570.1" stroke="#555" stroke-width="0.75"/><line x1="1742.0" x2="1755.0" y1="2572.8" y2="2572.8" stroke="#555" stroke-width="0.75"/><line x1="1742.0" x2="1755.0" y1="2575.5" y2="2575.5" stroke="#555" stroke-width="0.75"/><line x1="1746.3" x2="1746.3" y1="2567.4" y2="2578.2000000000003" stroke="#555" stroke-width="0.75"/><line x1="1750.7" x2="1750.7" y1="2567.4" y2="2578.2000000000003" stroke="#555" stroke-width="0.75"/></svg>
<div style="position:absolute;left:1759.4px;top:2566.2px;font-size:13.5px;line-height:13.5px;color:#333;white-space:nowrap;">Detail</div>
<div style="position:absolute;left:28.0px;top:2598.0px;width:1779.0px;height:1.0px;background:#e8e9eb;border-radius:0px;"></div>
<svg style="position:absolute;left:560px;top:2610px;overflow:visible;" width="720" height="380" viewBox="560 2610 720 380"><polygon points="615.6,2687.2 622.8,2682.8 619.2,2679.5 636.3,2673.9 651.6,2676.3 664.2,2677.9 675.0,2678.1 687.6,2676.5 707.3,2679.5 719.9,2681.6 730.7,2680.9 741.5,2682.1 748.7,2678.1 755.9,2680.4 764.9,2678.1 770.3,2683.9 763.1,2686.2 759.5,2690.4 750.5,2696.7 747.8,2702.5 752.3,2707.1 761.3,2709.9 769.7,2711.8 770.3,2717.6 774.8,2719.9 776.0,2711.8 779.3,2706.0 777.1,2699.0 778.4,2694.4 786.4,2695.1 792.7,2697.8 799.0,2702.9 806.2,2706.0 808.0,2709.4 815.2,2716.4 817.4,2718.7 809.8,2722.9 798.1,2724.5 802.6,2731.5 808.0,2733.8 803.5,2735.9 799.0,2737.3 791.8,2737.8 791.8,2742.6 784.6,2745.4 782.0,2750.1 781.1,2753.8 782.0,2757.5 777.5,2761.0 772.1,2766.3 773.3,2776.7 773.1,2780.9 770.6,2778.6 768.8,2774.4 766.7,2769.8 763.1,2768.9 756.8,2769.3 757.1,2772.1 754.1,2771.4 748.7,2770.7 742.9,2774.9 742.4,2780.2 742.0,2788.3 744.2,2794.1 747.8,2797.2 753.2,2796.5 755.0,2790.7 760.7,2789.5 759.5,2796.5 758.9,2802.3 763.1,2802.5 766.7,2803.9 767.9,2811.6 767.2,2814.1 770.3,2818.5 774.8,2817.4 778.4,2819.2 778.7,2821.3 777.5,2823.2 773.9,2822.5 770.8,2820.4 763.6,2816.2 763.6,2813.4 760.2,2809.2 753.4,2807.1 748.7,2802.3 744.2,2803.0 737.9,2799.9 731.6,2796.9 728.0,2791.8 728.4,2786.0 723.5,2780.2 718.1,2774.4 714.9,2766.3 711.3,2765.6 714.5,2772.1 716.3,2777.9 719.9,2786.0 716.1,2781.8 712.7,2775.6 709.5,2768.9 707.0,2763.7 704.6,2760.5 700.9,2759.1 697.6,2752.4 695.1,2747.7 694.2,2741.9 694.7,2732.2 693.5,2727.1 688.5,2722.2 684.0,2714.1 678.6,2706.0 673.2,2704.1 666.0,2700.6 657.0,2699.5 651.6,2700.2 645.3,2702.0 640.8,2706.0 633.6,2709.4 626.4,2711.8 624.6,2711.8 631.8,2708.3 634.5,2703.4 626.8,2703.2 621.4,2699.0 620.1,2694.8 621.9,2692.7 628.2,2690.2 619.2,2689.5" fill="#e8f0fc" stroke="#e8f0fc" stroke-width="0.6" stroke-linejoin="round"/><polygon points="786.4,2654.9 797.2,2649.1 809.8,2645.6 836.8,2644.5 860.2,2642.1 881.7,2644.5 885.3,2650.3 883.5,2659.6 879.9,2668.8 878.1,2672.3 871.0,2677.0 860.2,2678.1 853.0,2683.9 845.8,2685.1 842.2,2693.2 838.6,2696.7 831.4,2694.4 826.9,2688.6 824.2,2682.8 821.5,2677.0 826.0,2672.3 818.8,2670.0 817.0,2663.0 808.0,2659.6 797.2,2658.4 790.0,2656.1" fill="#e8f0fc" stroke="#e8f0fc" stroke-width="0.6" stroke-linejoin="round"/><polygon points="773.9,2668.4 786.4,2673.5 796.3,2677.0 799.0,2682.8 806.2,2685.1 800.8,2689.7 799.9,2694.4 795.4,2694.4 788.2,2692.0 784.6,2689.7 778.4,2688.6 786.4,2685.1 785.5,2681.6 777.5,2678.1 764.9,2677.0 757.7,2674.6 764.9,2668.8" fill="#e8f0fc" stroke="#e8f0fc" stroke-width="0.6" stroke-linejoin="round"/><polygon points="705.5,2674.6 719.9,2670.0 734.3,2670.0 736.1,2678.1 727.1,2679.7 714.5,2680.4 705.5,2678.1" fill="#e8f0fc" stroke="#e8f0fc" stroke-width="0.6" stroke-linejoin="round"/><polygon points="755.9,2661.9 775.7,2661.9 782.9,2657.2 791.8,2653.8 806.2,2649.1 782.9,2646.8 755.9,2650.3 745.1,2654.9" fill="#e8f0fc" stroke="#e8f0fc" stroke-width="0.6" stroke-linejoin="round"/><polygon points="745.1,2663.0 773.9,2666.5 773.9,2662.3 745.1,2660.7" fill="#e8f0fc" stroke="#e8f0fc" stroke-width="0.6" stroke-linejoin="round"/><polygon points="693.0,2673.5 707.3,2671.2 709.1,2667.7 694.7,2667.0" fill="#e8f0fc" stroke="#e8f0fc" stroke-width="0.6" stroke-linejoin="round"/><polygon points="730.7,2671.2 743.3,2667.7 752.3,2667.7 746.9,2672.8 736.1,2673.5" fill="#e8f0fc" stroke="#e8f0fc" stroke-width="0.6" stroke-linejoin="round"/><polygon points="707.3,2663.0 728.9,2661.9 730.7,2665.4 709.1,2666.5" fill="#e8f0fc" stroke="#e8f0fc" stroke-width="0.6" stroke-linejoin="round"/><polygon points="761.3,2690.9 772.1,2689.7 773.9,2692.0 764.9,2693.2" fill="#e8f0fc" stroke="#e8f0fc" stroke-width="0.6" stroke-linejoin="round"/><polygon points="810.7,2728.9 817.0,2724.3 817.9,2719.7 822.4,2725.7 822.9,2730.3 818.8,2730.6" fill="#e8f0fc" stroke="#e8f0fc" stroke-width="0.6" stroke-linejoin="round"/><polygon points="874.5,2687.4 878.1,2685.3 888.9,2685.1 893.4,2688.1 885.3,2692.3 876.9,2691.3" fill="#e8f0fc" stroke="#e8f0fc" stroke-width="0.6" stroke-linejoin="round"/><polygon points="779.3,2819.7 782.0,2815.0 788.2,2810.9 790.0,2813.9 795.4,2815.0 802.6,2814.8 808.0,2815.5 809.8,2819.7 815.2,2825.5 820.6,2825.9 825.1,2829.7 827.8,2835.2 829.6,2839.4 837.7,2845.2 845.8,2846.1 851.2,2850.5 854.4,2852.2 855.1,2856.8 854.2,2861.4 850.3,2868.4 847.6,2871.9 847.2,2880.0 844.5,2887.0 842.2,2892.8 837.7,2893.5 831.4,2898.6 830.3,2905.5 826.0,2911.3 822.4,2917.6 819.0,2920.4 814.3,2919.5 814.9,2922.9 815.8,2925.0 813.4,2928.7 806.2,2929.9 805.7,2933.8 800.8,2934.5 801.7,2938.0 799.9,2943.8 796.3,2947.3 799.0,2949.6 794.5,2955.4 793.6,2960.5 794.5,2965.9 798.1,2967.0 790.0,2967.0 783.7,2961.2 782.0,2950.8 784.6,2941.5 785.5,2932.2 785.5,2925.3 789.1,2913.7 789.1,2904.4 790.9,2892.8 791.3,2882.3 789.1,2880.0 781.1,2873.0 778.9,2867.2 774.8,2856.8 771.7,2852.2 772.1,2848.7 773.9,2845.2 772.2,2841.7 773.9,2837.5 775.7,2835.9 776.2,2833.4 778.4,2830.1 778.7,2824.3 778.4,2822.0" fill="#e8f0fc" stroke="#e8f0fc" stroke-width="0.6" stroke-linejoin="round"/><polygon points="907.6,2755.9 906.4,2754.0 901.7,2753.5 901.9,2746.6 901.7,2740.8 901.2,2739.2 903.3,2738.0 910.5,2738.7 914.5,2738.7 915.5,2732.7 913.7,2729.6 909.2,2727.1 915.0,2726.4 917.7,2724.5 920.4,2722.9 922.2,2721.0 924.9,2719.7 926.2,2716.4 930.3,2715.2 933.2,2714.1 933.2,2710.6 932.3,2707.8 936.6,2705.5 936.6,2709.4 935.7,2712.2 937.5,2714.1 942.9,2714.1 950.1,2712.2 955.5,2711.3 955.5,2707.1 960.3,2706.7 961.8,2703.6 960.0,2702.0 968.0,2700.9 971.6,2700.2 962.7,2699.5 957.3,2699.7 956.2,2696.7 956.4,2692.7 961.8,2688.8 963.2,2687.9 958.2,2686.7 954.6,2691.3 949.2,2694.4 948.3,2697.8 951.9,2700.2 950.4,2701.8 947.4,2707.1 946.5,2709.0 943.4,2710.6 940.7,2710.4 940.2,2708.1 938.9,2704.8 937.8,2702.5 936.6,2701.6 932.1,2704.8 928.5,2704.3 926.7,2701.3 926.7,2696.7 930.3,2693.7 935.7,2690.9 940.2,2686.2 942.9,2682.8 946.5,2679.7 951.9,2677.0 959.1,2675.3 966.2,2674.6 973.4,2676.3 977.0,2678.4 991.4,2682.3 996.8,2680.4 1013.0,2680.4 1025.6,2678.1 1036.4,2678.1 1041.8,2670.2 1048.1,2672.3 1052.5,2671.2 1061.5,2671.9 1062.4,2668.8 1074.1,2665.4 1088.5,2662.6 1104.7,2659.1 1120.9,2668.8 1133.5,2670.0 1147.8,2671.2 1151.4,2674.6 1169.4,2671.2 1187.4,2673.5 1205.4,2676.3 1223.4,2677.4 1234.1,2677.7 1241.3,2679.5 1241.3,2688.6 1235.9,2694.4 1228.8,2696.7 1223.4,2700.2 1212.6,2700.2 1210.8,2704.8 1209.0,2708.3 1205.4,2716.4 1199.4,2721.0 1198.2,2706.0 1205.4,2696.7 1196.4,2701.8 1187.4,2701.3 1174.8,2701.8 1170.3,2705.3 1162.2,2712.9 1170.3,2715.7 1172.1,2718.7 1170.3,2728.0 1165.8,2732.7 1160.4,2738.9 1155.0,2739.6 1152.7,2741.2 1150.5,2744.3 1147.8,2747.0 1150.4,2753.5 1150.2,2757.7 1145.1,2759.8 1144.8,2754.0 1144.2,2751.9 1141.9,2750.1 1142.5,2747.5 1136.2,2749.1 1136.2,2744.5 1130.8,2748.7 1129.3,2750.1 1131.7,2753.1 1138.0,2752.6 1133.5,2757.0 1134.4,2760.5 1136.9,2766.8 1136.2,2770.9 1133.5,2777.9 1129.9,2782.8 1126.3,2786.5 1121.8,2787.9 1116.4,2790.7 1111.9,2789.5 1109.2,2793.0 1108.3,2796.9 1113.3,2803.4 1114.2,2811.6 1110.1,2815.0 1106.5,2819.2 1106.1,2815.3 1102.9,2813.9 1099.1,2809.9 1097.5,2808.3 1096.1,2815.0 1098.0,2820.1 1099.3,2823.6 1103.6,2829.7 1105.2,2836.2 1103.8,2836.4 1099.8,2832.9 1098.0,2826.6 1094.4,2820.8 1094.8,2815.0 1093.5,2805.1 1093.2,2801.1 1089.4,2802.7 1087.3,2801.8 1087.6,2797.2 1083.7,2791.4 1082.6,2787.2 1080.6,2788.3 1076.8,2789.0 1073.8,2791.1 1070.5,2794.1 1065.7,2800.9 1061.9,2803.4 1062.1,2808.3 1061.2,2815.5 1057.9,2819.7 1057.0,2820.6 1055.2,2818.5 1052.2,2809.5 1049.9,2802.3 1048.6,2794.1 1048.2,2790.0 1044.5,2791.1 1041.8,2787.7 1041.0,2784.9 1038.7,2781.8 1037.4,2780.5 1028.3,2780.9 1020.7,2779.5 1019.1,2776.5 1015.7,2777.7 1010.3,2774.7 1008.1,2769.8 1004.9,2769.8 1004.0,2770.9 1004.7,2773.3 1006.9,2776.7 1008.0,2779.1 1010.5,2782.8 1014.8,2783.2 1018.4,2778.4 1019.1,2781.6 1022.9,2784.6 1025.2,2787.4 1023.4,2791.8 1021.6,2795.3 1017.5,2798.8 1011.6,2803.2 1005.3,2806.9 999.7,2808.5 995.9,2809.9 994.7,2805.1 994.3,2801.1 991.4,2794.1 987.8,2789.5 986.9,2784.2 983.3,2779.1 980.6,2774.4 980.5,2770.9 979.2,2766.8 980.5,2764.0 981.5,2760.5 982.4,2756.3 982.8,2754.5 980.1,2754.0 976.7,2755.6 972.5,2754.7 968.0,2754.2 966.8,2751.7 965.0,2750.1 965.3,2746.6 964.4,2744.7 960.9,2744.7 960.0,2746.1 958.7,2747.7 960.0,2751.2 957.3,2754.5 955.8,2751.7 954.0,2747.3 952.6,2742.4 946.5,2738.5 942.2,2733.3 939.8,2734.3 940.2,2737.3 942.9,2740.8 946.5,2743.1 951.0,2746.3 948.3,2748.9 947.4,2750.5 945.7,2751.2 946.8,2747.7 944.7,2746.1 940.2,2742.6 936.6,2739.6 933.5,2736.4 931.2,2737.8 926.7,2738.9 923.5,2739.4 923.5,2741.9 919.1,2744.3 917.2,2747.7 918.1,2749.6 916.3,2752.1 913.7,2754.2 909.8,2754.2" fill="#e8f0fc" stroke="#e8f0fc" stroke-width="0.6" stroke-linejoin="round"/><polygon points="594.1,2677.4 601.3,2677.9 608.4,2683.5 606.6,2687.4 601.3,2688.1 594.1,2688.6" fill="#e8f0fc" stroke="#e8f0fc" stroke-width="0.6" stroke-linejoin="round"/><polygon points="907.1,2756.3 914.1,2757.9 919.5,2754.7 923.1,2754.0 933.2,2753.8 936.2,2752.8 937.5,2754.0 935.9,2756.3 937.5,2757.5 936.0,2759.8 938.4,2762.6 945.0,2764.4 951.9,2769.1 953.8,2766.3 953.7,2764.7 958.2,2763.3 962.7,2765.6 969.8,2767.7 975.8,2766.8 979.2,2766.8 980.5,2770.9 979.2,2774.9 976.3,2770.0 978.1,2776.7 981.5,2783.9 984.8,2790.7 987.1,2797.6 989.1,2803.4 992.7,2808.1 995.6,2811.3 997.7,2815.0 1004.0,2813.4 1009.9,2812.0 1009.4,2815.3 1007.6,2822.0 1004.0,2827.8 1000.4,2834.3 995.9,2840.6 992.3,2843.6 989.6,2847.5 988.4,2851.0 988.7,2855.6 988.4,2858.4 990.5,2863.8 990.7,2871.9 990.9,2875.4 984.2,2880.0 981.2,2889.3 981.5,2895.1 976.7,2899.7 976.7,2905.5 973.4,2909.0 968.0,2915.5 963.5,2918.3 957.3,2918.8 953.7,2920.2 951.0,2918.8 950.1,2913.7 947.4,2905.8 945.0,2902.1 943.8,2892.5 938.9,2879.3 939.3,2871.9 942.5,2864.9 941.4,2859.8 939.6,2853.3 938.9,2848.7 934.2,2841.7 934.8,2837.1 935.3,2832.4 933.0,2829.0 928.1,2829.4 925.6,2824.5 920.4,2825.2 914.1,2828.5 909.6,2827.3 904.0,2829.2 897.0,2823.4 893.8,2819.0 890.7,2814.1 887.5,2810.6 886.2,2805.3 888.0,2801.6 888.6,2794.6 887.0,2790.7 889.1,2784.4 891.8,2778.8 894.3,2775.1 899.4,2771.4 900.3,2768.2 901.0,2764.0 905.5,2760.5" fill="#e8f0fc" stroke="#e8f0fc" stroke-width="0.6" stroke-linejoin="round"/><polygon points="1006.3,2867.2 1008.5,2875.4 1006.7,2880.0 1004.0,2890.5 1002.2,2897.4 998.8,2898.8 996.3,2893.9 995.6,2889.3 997.5,2885.8 996.8,2878.9 1001.3,2875.8 1004.0,2870.7" fill="#e8f0fc" stroke="#e8f0fc" stroke-width="0.6" stroke-linejoin="round"/><polygon points="1061.5,2816.7 1065.0,2822.0 1063.7,2825.0 1061.7,2825.5 1061.2,2820.8" fill="#e8f0fc" stroke="#e8f0fc" stroke-width="0.6" stroke-linejoin="round"/><polygon points="907.5,2723.1 920.2,2720.6 920.8,2717.1 918.2,2715.5 915.0,2710.6 914.1,2707.1 914.5,2705.7 910.5,2705.5 912.1,2703.4 908.7,2703.4 906.6,2706.0 907.6,2708.8 908.9,2711.8 912.3,2712.2 911.9,2714.1 912.3,2715.7 909.4,2715.7 910.1,2718.0 908.4,2719.4 911.6,2720.1 910.1,2720.8" fill="#e8f0fc" stroke="#e8f0fc" stroke-width="0.6" stroke-linejoin="round"/><polygon points="906.9,2718.7 906.6,2714.3 907.8,2712.7 906.0,2711.3 902.4,2711.3 899.7,2713.6 900.1,2715.7 899.0,2718.7 900.1,2719.7 903.3,2719.4" fill="#e8f0fc" stroke="#e8f0fc" stroke-width="0.6" stroke-linejoin="round"/><polygon points="1153.1,2760.5 1155.0,2757.0 1161.3,2756.8 1164.0,2753.5 1167.6,2751.2 1169.4,2746.6 1169.4,2743.3 1172.1,2743.6 1173.0,2747.7 1171.2,2752.4 1170.9,2756.6 1169.1,2758.2 1167.3,2759.1 1163.7,2759.8 1160.8,2761.4 1156.8,2759.8" fill="#e8f0fc" stroke="#e8f0fc" stroke-width="0.6" stroke-linejoin="round"/><polygon points="1169.4,2740.8 1172.1,2734.0 1175.7,2736.8 1179.3,2738.9 1175.4,2741.9 1171.2,2742.4" fill="#e8f0fc" stroke="#e8f0fc" stroke-width="0.6" stroke-linejoin="round"/><polygon points="1150.9,2761.7 1154.1,2760.5 1155.0,2762.8 1153.6,2766.8 1151.8,2766.8" fill="#e8f0fc" stroke="#e8f0fc" stroke-width="0.6" stroke-linejoin="round"/><polygon points="1155.9,2762.8 1159.5,2760.0 1159.9,2761.7 1157.7,2762.1" fill="#e8f0fc" stroke="#e8f0fc" stroke-width="0.6" stroke-linejoin="round"/><polygon points="1173.0,2732.7 1175.7,2725.7 1174.8,2718.7 1174.5,2713.4 1173.0,2716.4 1172.7,2728.0" fill="#e8f0fc" stroke="#e8f0fc" stroke-width="0.6" stroke-linejoin="round"/><polygon points="1133.6,2786.0 1135.3,2780.7 1137.1,2781.4 1135.3,2788.3" fill="#e8f0fc" stroke="#e8f0fc" stroke-width="0.6" stroke-linejoin="round"/><polygon points="1113.0,2794.8 1116.4,2792.8 1117.3,2793.9 1114.6,2797.2" fill="#e8f0fc" stroke="#e8f0fc" stroke-width="0.6" stroke-linejoin="round"/><polygon points="1133.5,2796.5 1137.4,2796.5 1138.0,2801.1 1136.2,2803.4 1140.7,2809.2 1138.0,2808.1 1134.5,2806.2 1133.5,2802.3" fill="#e8f0fc" stroke="#e8f0fc" stroke-width="0.6" stroke-linejoin="round"/><polygon points="1137.1,2823.2 1139.8,2819.7 1143.3,2817.4 1145.1,2822.0 1143.3,2825.9 1140.7,2824.3" fill="#e8f0fc" stroke="#e8f0fc" stroke-width="0.6" stroke-linejoin="round"/><polygon points="1137.1,2812.0 1143.3,2812.7 1142.5,2816.7 1138.0,2817.4" fill="#e8f0fc" stroke="#e8f0fc" stroke-width="0.6" stroke-linejoin="round"/><polygon points="1089.0,2826.4 1093.0,2827.3 1098.0,2834.1 1104.2,2841.7 1108.3,2846.4 1107.9,2852.9 1105.6,2853.1 1101.6,2848.7 1098.4,2841.7 1095.2,2835.5" fill="#e8f0fc" stroke="#e8f0fc" stroke-width="0.6" stroke-linejoin="round"/><polygon points="1106.8,2855.2 1109.2,2853.3 1112.8,2854.7 1117.3,2854.5 1120.3,2855.4 1123.6,2857.3 1123.6,2859.6 1117.3,2858.4 1111.9,2857.5" fill="#e8f0fc" stroke="#e8f0fc" stroke-width="0.6" stroke-linejoin="round"/><polygon points="1113.7,2835.9 1114.8,2834.8 1117.3,2835.2 1120.9,2832.0 1125.4,2826.6 1128.1,2823.2 1132.2,2827.3 1129.9,2829.7 1129.7,2837.1 1131.7,2837.3 1127.2,2844.0 1126.3,2848.2 1123.6,2848.7 1117.3,2846.4 1115.5,2842.9 1113.7,2839.4" fill="#e8f0fc" stroke="#e8f0fc" stroke-width="0.6" stroke-linejoin="round"/><polygon points="1132.6,2852.2 1134.4,2845.2 1135.3,2837.1 1142.1,2835.9 1138.0,2838.7 1138.9,2841.7 1136.2,2843.6 1138.0,2849.8 1135.3,2850.5 1134.4,2852.2" fill="#e8f0fc" stroke="#e8f0fc" stroke-width="0.6" stroke-linejoin="round"/><polygon points="1153.2,2842.4 1159.0,2841.5 1164.9,2842.9 1171.2,2845.4 1179.3,2849.8 1182.9,2854.5 1183.4,2858.0 1187.4,2863.8 1182.0,2862.6 1176.6,2857.5 1171.2,2860.5 1166.7,2858.9 1165.6,2852.2 1159.5,2848.7 1155.9,2846.4" fill="#e8f0fc" stroke="#e8f0fc" stroke-width="0.6" stroke-linejoin="round"/><polygon points="1125.4,2858.4 1137.1,2858.4 1146.0,2858.4 1146.0,2860.3 1137.1,2860.3 1125.4,2860.1" fill="#e8f0fc" stroke="#e8f0fc" stroke-width="0.6" stroke-linejoin="round"/><polygon points="1121.8,2890.5 1123.0,2890.0 1127.5,2887.2 1131.7,2885.8 1135.3,2884.7 1137.4,2881.2 1139.8,2878.9 1143.3,2873.0 1146.0,2871.9 1150.5,2874.0 1152.0,2868.4 1155.9,2866.1 1160.4,2867.5 1163.7,2867.7 1162.2,2870.7 1161.3,2874.2 1165.5,2877.7 1170.3,2880.0 1172.1,2874.2 1172.3,2868.4 1173.9,2864.2 1175.7,2870.7 1178.9,2874.2 1180.2,2882.3 1185.6,2889.3 1188.8,2891.6 1193.2,2898.6 1193.9,2905.8 1192.8,2911.3 1189.7,2917.8 1187.4,2926.4 1183.4,2927.4 1178.4,2928.7 1175.7,2929.4 1170.3,2927.6 1168.7,2924.1 1165.8,2922.0 1165.3,2919.5 1162.2,2920.2 1160.8,2919.5 1158.6,2915.5 1153.2,2912.5 1147.8,2914.1 1140.7,2918.1 1136.2,2917.8 1129.9,2920.6 1125.4,2919.0 1124.5,2917.1 1125.7,2912.5 1124.3,2906.7 1122.0,2900.9 1121.8,2896.3" fill="#e8f0fc" stroke="#e8f0fc" stroke-width="0.6" stroke-linejoin="round"/><polygon points="1177.7,2933.8 1184.3,2934.3 1183.8,2939.6 1181.6,2940.6 1178.8,2937.6" fill="#e8f0fc" stroke="#e8f0fc" stroke-width="0.6" stroke-linejoin="round"/><polygon points="1228.2,2919.2 1231.5,2924.1 1234.0,2926.4 1238.6,2926.9 1237.6,2930.4 1235.8,2931.1 1232.7,2935.9 1231.6,2935.0 1230.4,2930.6 1231.6,2929.4 1230.9,2925.3" fill="#e8f0fc" stroke="#e8f0fc" stroke-width="0.6" stroke-linejoin="round"/><polygon points="1228.2,2933.4 1231.1,2936.2 1228.9,2940.3 1225.5,2942.4 1224.4,2946.1 1220.7,2947.5 1217.1,2945.7 1220.3,2941.5 1224.3,2938.7 1227.0,2935.7" fill="#e8f0fc" stroke="#e8f0fc" stroke-width="0.6" stroke-linejoin="round"/><polygon points="764.9,2788.6 770.3,2785.8 774.8,2787.2 778.4,2789.5 784.3,2792.5 778.4,2793.2 776.6,2789.5 771.2,2788.1" fill="#e8f0fc" stroke="#e8f0fc" stroke-width="0.6" stroke-linejoin="round"/><polygon points="783.7,2796.7 786.8,2793.2 791.8,2793.5 794.7,2796.2 789.1,2798.6" fill="#e8f0fc" stroke="#e8f0fc" stroke-width="0.6" stroke-linejoin="round"/><polygon points="937.5,2657.2 948.3,2653.1 966.2,2653.8 957.3,2658.4 946.5,2661.4" fill="#e8f0fc" stroke="#e8f0fc" stroke-width="0.6" stroke-linejoin="round"/><polygon points="1011.2,2673.5 1016.6,2668.8 1025.6,2663.0 1040.9,2660.7 1029.2,2665.4 1020.2,2670.0 1016.6,2675.1" fill="#e8f0fc" stroke="#e8f0fc" stroke-width="0.6" stroke-linejoin="round"/><polygon points="1090.3,2656.1 1097.5,2651.4 1106.5,2654.9 1099.3,2657.2" fill="#e8f0fc" stroke="#e8f0fc" stroke-width="0.6" stroke-linejoin="round"/><polygon points="1164.0,2665.4 1174.8,2663.5 1187.4,2665.4 1173.0,2668.1" fill="#e8f0fc" stroke="#e8f0fc" stroke-width="0.6" stroke-linejoin="round"/><polyline points="696.5,2725.7 746.9,2725.7 757.7,2728.0 765.8,2731.5 769.4,2735.0 769.4,2741.9 775.7,2739.6 780.2,2736.8 783.7,2735.0 790.0,2735.0 793.3,2729.4 795.8,2730.3 797.2,2735.0" fill="none" stroke="#f7faff" stroke-width="0.9" stroke-linejoin="round"/><polyline points="664.2,2677.9 664.2,2699.5 671.4,2702.5 678.6,2709.4" fill="none" stroke="#f7faff" stroke-width="0.9" stroke-linejoin="round"/><polyline points="751.9,2805.8 757.3,2806.9 759.5,2808.8 763.1,2810.4 763.8,2813.4" fill="none" stroke="#f7faff" stroke-width="0.9" stroke-linejoin="round"/><polyline points="757.5,2798.1 757.3,2802.5" fill="none" stroke="#f7faff" stroke-width="0.9" stroke-linejoin="round"/><polyline points="767.4,2804.6 763.6,2813.4" fill="none" stroke="#f7faff" stroke-width="0.9" stroke-linejoin="round"/><polyline points="768.6,2817.1 769.2,2820.4" fill="none" stroke="#f7faff" stroke-width="0.9" stroke-linejoin="round"/><polyline points="778.4,2819.7 778.9,2822.0" fill="none" stroke="#f7faff" stroke-width="0.9" stroke-linejoin="round"/><polyline points="788.2,2812.7 787.3,2820.8 791.8,2823.2 796.3,2825.5 796.3,2834.3 791.8,2836.6 791.8,2842.4 785.5,2842.9 782.3,2839.9 776.2,2836.6" fill="none" stroke="#f7faff" stroke-width="0.9" stroke-linejoin="round"/><polyline points="808.9,2827.3 808.9,2820.8 810.2,2819.7" fill="none" stroke="#f7faff" stroke-width="0.9" stroke-linejoin="round"/><polyline points="815.0,2825.5 817.0,2834.8" fill="none" stroke="#f7faff" stroke-width="0.9" stroke-linejoin="round"/><polyline points="820.6,2825.9 820.4,2834.5" fill="none" stroke="#f7faff" stroke-width="0.9" stroke-linejoin="round"/><polyline points="773.3,2847.3 777.1,2847.5 782.0,2841.7" fill="none" stroke="#f7faff" stroke-width="0.9" stroke-linejoin="round"/><polyline points="791.1,2881.9 792.7,2879.3 794.0,2868.4 792.7,2864.9" fill="none" stroke="#f7faff" stroke-width="0.9" stroke-linejoin="round"/><polyline points="792.7,2864.9 793.6,2874.2" fill="none" stroke="#f7faff" stroke-width="0.9" stroke-linejoin="round"/><polyline points="794.4,2892.3 797.2,2892.3 804.8,2890.5 807.1,2886.3 813.1,2885.3" fill="none" stroke="#f7faff" stroke-width="0.9" stroke-linejoin="round"/><polyline points="794.4,2892.3 794.9,2902.1 792.2,2909.0 791.5,2920.6 789.7,2932.2 789.0,2943.8 786.4,2955.4 793.6,2960.5" fill="none" stroke="#f7faff" stroke-width="0.9" stroke-linejoin="round"/><polyline points="804.8,2890.5 809.8,2895.1 813.8,2898.6 819.5,2898.8" fill="none" stroke="#f7faff" stroke-width="0.9" stroke-linejoin="round"/><polyline points="813.4,2917.8 814.1,2909.5" fill="none" stroke="#f7faff" stroke-width="0.9" stroke-linejoin="round"/><polyline points="914.5,2738.7 919.0,2740.1 923.5,2741.0" fill="none" stroke="#f7faff" stroke-width="0.9" stroke-linejoin="round"/><polyline points="901.7,2741.9 906.6,2742.9 905.1,2747.7 904.4,2753.1" fill="none" stroke="#f7faff" stroke-width="0.9" stroke-linejoin="round"/><polyline points="922.2,2721.0 925.4,2723.8 928.5,2724.5 932.4,2725.7 931.4,2728.9 930.1,2732.0 930.3,2736.8" fill="none" stroke="#f7faff" stroke-width="0.9" stroke-linejoin="round"/><polyline points="928.5,2724.5 928.7,2721.7 928.8,2719.0" fill="none" stroke="#f7faff" stroke-width="0.9" stroke-linejoin="round"/><polyline points="931.4,2728.9 936.6,2729.2 941.1,2729.2 941.1,2726.6 944.7,2725.7 951.5,2724.5 958.3,2725.5 960.9,2721.5 960.0,2718.3 959.8,2714.1 955.5,2711.3" fill="none" stroke="#f7faff" stroke-width="0.9" stroke-linejoin="round"/><polyline points="943.2,2714.3 944.0,2721.0 944.7,2725.7" fill="none" stroke="#f7faff" stroke-width="0.9" stroke-linejoin="round"/><polyline points="933.2,2712.0 935.5,2712.2" fill="none" stroke="#f7faff" stroke-width="0.9" stroke-linejoin="round"/><polyline points="936.6,2729.2 940.0,2730.8 942.3,2731.5 947.4,2731.5 948.3,2728.0 951.5,2724.5" fill="none" stroke="#f7faff" stroke-width="0.9" stroke-linejoin="round"/><polyline points="942.2,2733.8 946.5,2732.0 951.9,2732.9 955.5,2732.2 958.2,2728.0 958.3,2725.5" fill="none" stroke="#f7faff" stroke-width="0.9" stroke-linejoin="round"/><polyline points="951.9,2732.9 952.8,2737.3 952.6,2742.4" fill="none" stroke="#f7faff" stroke-width="0.9" stroke-linejoin="round"/><polyline points="958.2,2728.0 965.5,2727.5 968.4,2733.8 970.9,2734.3" fill="none" stroke="#f7faff" stroke-width="0.9" stroke-linejoin="round"/><polyline points="958.9,2737.3 963.5,2738.0 967.7,2737.3" fill="none" stroke="#f7faff" stroke-width="0.9" stroke-linejoin="round"/><polyline points="958.9,2737.3 958.2,2743.8 964.6,2743.6 968.0,2741.9" fill="none" stroke="#f7faff" stroke-width="0.9" stroke-linejoin="round"/><polyline points="954.6,2741.9 958.2,2743.8" fill="none" stroke="#f7faff" stroke-width="0.9" stroke-linejoin="round"/><polyline points="959.8,2714.1 965.5,2710.1 968.4,2709.0 967.5,2705.5 968.0,2701.3" fill="none" stroke="#f7faff" stroke-width="0.9" stroke-linejoin="round"/><polyline points="955.5,2709.0 965.5,2710.1" fill="none" stroke="#f7faff" stroke-width="0.9" stroke-linejoin="round"/><polyline points="956.4,2706.0 963.5,2704.8" fill="none" stroke="#f7faff" stroke-width="0.9" stroke-linejoin="round"/><polyline points="960.0,2718.3 965.3,2719.9 973.4,2718.7 975.6,2718.5 981.5,2722.4 989.6,2724.3 986.4,2729.9" fill="none" stroke="#f7faff" stroke-width="0.9" stroke-linejoin="round"/><polyline points="965.5,2727.5 968.9,2727.5 973.4,2731.3" fill="none" stroke="#f7faff" stroke-width="0.9" stroke-linejoin="round"/><polyline points="960.9,2679.7 968.9,2679.3 970.7,2682.3 970.7,2690.9 974.3,2693.4 967.7,2699.0" fill="none" stroke="#f7faff" stroke-width="0.9" stroke-linejoin="round"/><polyline points="940.2,2697.8 939.3,2692.0 942.9,2688.6 947.4,2682.1 952.8,2679.3 955.5,2679.3 960.9,2679.7" fill="none" stroke="#f7faff" stroke-width="0.9" stroke-linejoin="round"/><polyline points="964.4,2742.4 968.0,2741.9" fill="none" stroke="#f7faff" stroke-width="0.9" stroke-linejoin="round"/><polyline points="982.8,2754.5 986.0,2754.0 993.8,2753.3 998.3,2753.1 997.2,2747.7 996.1,2744.0 992.3,2743.1" fill="none" stroke="#f7faff" stroke-width="0.9" stroke-linejoin="round"/><polyline points="993.8,2753.3 991.4,2759.6 987.5,2762.1 983.9,2764.4 981.5,2764.2" fill="none" stroke="#f7faff" stroke-width="0.9" stroke-linejoin="round"/><polyline points="980.6,2770.9 983.3,2770.9 985.1,2768.6 982.4,2765.6 987.8,2765.1 993.2,2767.0 1001.3,2771.9 1004.0,2770.9" fill="none" stroke="#f7faff" stroke-width="0.9" stroke-linejoin="round"/><polyline points="998.3,2753.1 1000.4,2758.2 999.5,2761.0 1003.6,2766.1 1004.0,2769.8" fill="none" stroke="#f7faff" stroke-width="0.9" stroke-linejoin="round"/><polyline points="997.2,2747.7 1004.0,2750.1 1005.6,2750.3" fill="none" stroke="#f7faff" stroke-width="0.9" stroke-linejoin="round"/><polyline points="996.8,2748.0 1001.3,2749.1 1004.9,2742.4 1002.2,2740.1 998.6,2741.0 992.3,2743.1" fill="none" stroke="#f7faff" stroke-width="0.9" stroke-linejoin="round"/><polyline points="1012.1,2800.9 1013.2,2800.9 1017.7,2793.2 1016.6,2786.7 1011.2,2786.0" fill="none" stroke="#f7faff" stroke-width="0.9" stroke-linejoin="round"/><polyline points="995.9,2798.8 1001.3,2799.5 1005.8,2796.5 1011.2,2795.3 1013.2,2800.9" fill="none" stroke="#f7faff" stroke-width="0.9" stroke-linejoin="round"/><polyline points="1016.6,2786.7 1018.9,2782.5" fill="none" stroke="#f7faff" stroke-width="0.9" stroke-linejoin="round"/><polyline points="1010.5,2782.8 1009.0,2781.8" fill="none" stroke="#f7faff" stroke-width="0.9" stroke-linejoin="round"/><polyline points="1013.0,2753.8 1018.4,2752.6 1021.1,2750.8 1027.4,2754.7 1027.7,2756.8 1030.1,2757.5 1033.7,2755.2 1038.2,2752.8 1043.6,2752.4 1046.1,2755.6 1051.7,2753.5 1052.2,2750.1 1049.9,2747.7 1053.4,2745.4 1061.5,2741.7 1061.9,2735.0 1066.0,2733.8 1066.9,2729.9 1071.4,2730.3 1074.7,2725.5" fill="none" stroke="#f7faff" stroke-width="0.9" stroke-linejoin="round"/><polyline points="1027.7,2756.8 1027.0,2766.8 1028.8,2767.5 1027.2,2770.2 1030.4,2771.2 1037.1,2770.0 1042.3,2765.4 1044.8,2761.0 1046.3,2758.9 1045.7,2755.6" fill="none" stroke="#f7faff" stroke-width="0.9" stroke-linejoin="round"/><polyline points="1027.2,2770.2 1028.5,2774.4 1031.0,2777.7 1028.8,2780.9" fill="none" stroke="#f7faff" stroke-width="0.9" stroke-linejoin="round"/><polyline points="1013.0,2753.5 1014.4,2752.8" fill="none" stroke="#f7faff" stroke-width="0.9" stroke-linejoin="round"/><polyline points="1017.5,2743.6 1018.4,2735.0 1013.0,2734.5" fill="none" stroke="#f7faff" stroke-width="0.9" stroke-linejoin="round"/><polyline points="1017.5,2743.6 1022.9,2741.0 1025.6,2741.9 1027.4,2743.6 1030.1,2746.6 1032.8,2749.1 1037.3,2752.6" fill="none" stroke="#f7faff" stroke-width="0.9" stroke-linejoin="round"/><polyline points="1027.4,2743.6 1031.9,2738.5 1036.4,2739.6 1040.0,2744.7 1042.7,2745.2 1044.8,2744.3 1046.3,2742.6 1049.0,2745.6 1053.4,2745.4" fill="none" stroke="#f7faff" stroke-width="0.9" stroke-linejoin="round"/><polyline points="1040.0,2744.7 1040.3,2748.4 1038.2,2752.8" fill="none" stroke="#f7faff" stroke-width="0.9" stroke-linejoin="round"/><polyline points="1046.3,2742.6 1050.8,2739.6 1054.3,2739.8 1061.5,2741.7" fill="none" stroke="#f7faff" stroke-width="0.9" stroke-linejoin="round"/><polyline points="1005.8,2731.5 1007.6,2726.9 1014.8,2721.0 1022.0,2721.0 1027.4,2721.7 1028.1,2718.7 1026.5,2714.1 1035.5,2712.2 1041.8,2710.8 1049.9,2714.1 1055.2,2713.6 1057.0,2715.9 1062.4,2720.4 1067.5,2721.0 1071.4,2724.5 1074.7,2725.5" fill="none" stroke="#f7faff" stroke-width="0.9" stroke-linejoin="round"/><polyline points="1074.7,2725.5 1083.1,2722.2 1093.9,2718.7 1101.1,2719.9 1108.3,2722.7 1115.5,2725.2 1125.4,2723.8 1129.5,2724.5 1132.6,2722.4 1135.3,2715.7 1144.2,2716.9 1146.9,2723.8 1152.9,2726.2 1160.1,2727.3 1156.8,2735.0 1153.2,2740.1 1152.5,2741.0" fill="none" stroke="#f7faff" stroke-width="0.9" stroke-linejoin="round"/><polyline points="1074.7,2725.5 1080.4,2733.8 1089.4,2736.8 1092.1,2740.1 1104.7,2742.2 1110.1,2740.8 1118.7,2738.0 1118.7,2734.7 1124.5,2733.8 1129.5,2731.5 1133.1,2731.3 1129.5,2724.5" fill="none" stroke="#f7faff" stroke-width="0.9" stroke-linejoin="round"/><polyline points="1141.2,2746.6 1145.1,2742.4 1149.6,2741.0 1152.5,2741.0" fill="none" stroke="#f7faff" stroke-width="0.9" stroke-linejoin="round"/><polyline points="1141.2,2746.6 1142.5,2747.5" fill="none" stroke="#f7faff" stroke-width="0.9" stroke-linejoin="round"/><polyline points="1144.6,2751.4 1148.4,2749.8" fill="none" stroke="#f7faff" stroke-width="0.9" stroke-linejoin="round"/><polyline points="1051.7,2753.5 1057.6,2757.0 1059.6,2759.8 1059.7,2764.0 1063.3,2769.3 1062.1,2772.6" fill="none" stroke="#f7faff" stroke-width="0.9" stroke-linejoin="round"/><polyline points="1062.1,2772.6 1065.1,2774.9 1068.7,2775.8 1072.3,2777.7 1076.1,2777.9" fill="none" stroke="#f7faff" stroke-width="0.9" stroke-linejoin="round"/><polyline points="1076.3,2775.1 1078.6,2774.2 1083.1,2774.9" fill="none" stroke="#f7faff" stroke-width="0.9" stroke-linejoin="round"/><polyline points="1083.1,2774.9 1086.7,2771.6 1090.7,2773.7 1093.0,2774.0 1094.8,2779.5 1093.4,2783.9 1096.6,2788.1 1099.3,2789.3 1100.6,2787.2 1107.0,2785.3 1109.5,2786.5 1111.9,2789.5" fill="none" stroke="#f7faff" stroke-width="0.9" stroke-linejoin="round"/><polyline points="1093.0,2774.0 1094.3,2775.6" fill="none" stroke="#f7faff" stroke-width="0.9" stroke-linejoin="round"/><polyline points="1087.8,2781.4 1085.5,2784.9 1084.2,2788.6" fill="none" stroke="#f7faff" stroke-width="0.9" stroke-linejoin="round"/><polyline points="1099.3,2789.3 1097.7,2792.1 1093.5,2796.5 1094.8,2800.4 1095.7,2808.1 1094.8,2815.0" fill="none" stroke="#f7faff" stroke-width="0.9" stroke-linejoin="round"/><polyline points="1097.7,2792.1 1099.8,2794.1 1099.3,2798.8 1102.9,2797.6 1106.0,2799.0 1107.6,2803.4 1107.4,2806.4 1102.2,2811.1 1102.9,2813.9" fill="none" stroke="#f7faff" stroke-width="0.9" stroke-linejoin="round"/><polyline points="1107.6,2803.4 1111.2,2804.1 1108.3,2813.4 1106.5,2815.0" fill="none" stroke="#f7faff" stroke-width="0.9" stroke-linejoin="round"/><polyline points="1107.0,2785.3 1103.8,2787.2 1101.3,2787.4" fill="none" stroke="#f7faff" stroke-width="0.9" stroke-linejoin="round"/><polyline points="1106.0,2799.0 1109.2,2799.5 1110.8,2802.0" fill="none" stroke="#f7faff" stroke-width="0.9" stroke-linejoin="round"/><polyline points="1102.2,2811.1 1107.4,2806.4" fill="none" stroke="#f7faff" stroke-width="0.9" stroke-linejoin="round"/><polyline points="1098.0,2824.3 1099.7,2826.2 1101.3,2825.0" fill="none" stroke="#f7faff" stroke-width="0.9" stroke-linejoin="round"/><polyline points="1076.1,2777.9 1079.2,2779.1 1083.1,2781.2" fill="none" stroke="#f7faff" stroke-width="0.9" stroke-linejoin="round"/><polyline points="1077.2,2783.2 1077.7,2787.2" fill="none" stroke="#f7faff" stroke-width="0.9" stroke-linejoin="round"/><polyline points="914.5,2758.2 914.8,2764.7 911.2,2767.7 902.1,2772.8 902.1,2776.0 909.1,2781.4 919.9,2790.7 924.9,2794.8 928.1,2794.4 939.1,2784.9 935.7,2782.8 934.8,2769.3 934.8,2764.7 938.4,2762.6" fill="none" stroke="#f7faff" stroke-width="0.9" stroke-linejoin="round"/><polyline points="902.1,2775.1 894.0,2775.1" fill="none" stroke="#f7faff" stroke-width="0.9" stroke-linejoin="round"/><polyline points="902.1,2776.0 896.1,2779.1 896.1,2784.9 894.3,2790.0 887.1,2790.0" fill="none" stroke="#f7faff" stroke-width="0.9" stroke-linejoin="round"/><polyline points="909.1,2781.4 906.9,2790.7 907.8,2801.1 897.0,2803.4 895.4,2805.5 887.7,2801.1" fill="none" stroke="#f7faff" stroke-width="0.9" stroke-linejoin="round"/><polyline points="897.0,2803.4 897.0,2810.6 893.1,2810.2 887.5,2810.6" fill="none" stroke="#f7faff" stroke-width="0.9" stroke-linejoin="round"/><polyline points="897.0,2810.6 902.2,2815.5 899.2,2819.7 897.0,2823.4" fill="none" stroke="#f7faff" stroke-width="0.9" stroke-linejoin="round"/><polyline points="902.2,2815.5 904.0,2819.9 902.6,2823.9 904.0,2829.2" fill="none" stroke="#f7faff" stroke-width="0.9" stroke-linejoin="round"/><polyline points="907.8,2815.3 909.4,2816.7 912.8,2817.4 912.3,2827.8" fill="none" stroke="#f7faff" stroke-width="0.9" stroke-linejoin="round"/><polyline points="907.8,2815.3 907.8,2801.1" fill="none" stroke="#f7faff" stroke-width="0.9" stroke-linejoin="round"/><polyline points="907.8,2815.3 912.7,2813.9 917.7,2813.9 919.3,2813.9 922.0,2811.8 924.2,2812.2 924.4,2815.7 922.6,2824.8" fill="none" stroke="#f7faff" stroke-width="0.9" stroke-linejoin="round"/><polyline points="917.7,2813.9 918.8,2820.4 919.9,2825.2" fill="none" stroke="#f7faff" stroke-width="0.9" stroke-linejoin="round"/><polyline points="919.9,2790.7 919.5,2803.4 917.7,2804.6 907.8,2803.4" fill="none" stroke="#f7faff" stroke-width="0.9" stroke-linejoin="round"/><polyline points="919.5,2803.4 924.2,2812.2" fill="none" stroke="#f7faff" stroke-width="0.9" stroke-linejoin="round"/><polyline points="924.2,2812.2 931.7,2808.5 942.0,2807.6 945.6,2793.0 946.1,2785.6 939.1,2784.9" fill="none" stroke="#f7faff" stroke-width="0.9" stroke-linejoin="round"/><polyline points="922.6,2824.8 922.6,2817.8 924.2,2812.2" fill="none" stroke="#f7faff" stroke-width="0.9" stroke-linejoin="round"/><polyline points="942.0,2807.6 943.8,2810.4 942.0,2815.0 939.3,2823.2 935.9,2824.3 933.0,2828.7" fill="none" stroke="#f7faff" stroke-width="0.9" stroke-linejoin="round"/><polyline points="946.1,2785.6 960.9,2794.1 960.9,2793.0" fill="none" stroke="#f7faff" stroke-width="0.9" stroke-linejoin="round"/><polyline points="960.9,2794.1 960.9,2802.7 958.2,2806.9 957.3,2810.4 959.1,2815.0 956.9,2817.6 951.0,2818.5 945.7,2821.8 943.8,2825.0 944.0,2829.0 946.6,2834.3 951.0,2831.0 958.0,2829.9 962.7,2827.3 967.0,2827.6 970.7,2828.7 973.4,2830.8 977.9,2830.6 978.8,2829.7 982.2,2828.7" fill="none" stroke="#f7faff" stroke-width="0.9" stroke-linejoin="round"/><polyline points="942.0,2815.0 945.7,2821.8" fill="none" stroke="#f7faff" stroke-width="0.9" stroke-linejoin="round"/><polyline points="956.9,2817.6 960.0,2819.7 962.7,2822.0 967.0,2827.6" fill="none" stroke="#f7faff" stroke-width="0.9" stroke-linejoin="round"/><polyline points="960.9,2794.1 960.9,2793.0 962.7,2788.3 984.2,2788.3" fill="none" stroke="#f7faff" stroke-width="0.9" stroke-linejoin="round"/><polyline points="962.7,2765.8 962.7,2788.3" fill="none" stroke="#f7faff" stroke-width="0.9" stroke-linejoin="round"/><polyline points="960.9,2816.2 961.8,2818.7 966.8,2817.1 971.6,2815.7 976.1,2811.1 978.8,2817.4 979.2,2819.4 977.4,2820.8 980.6,2827.8 982.2,2828.7" fill="none" stroke="#f7faff" stroke-width="0.9" stroke-linejoin="round"/><polyline points="983.3,2806.2 984.6,2805.8 987.8,2805.3 993.8,2810.4" fill="none" stroke="#f7faff" stroke-width="0.9" stroke-linejoin="round"/><polyline points="978.8,2817.4 980.1,2814.1 983.3,2806.2" fill="none" stroke="#f7faff" stroke-width="0.9" stroke-linejoin="round"/><polyline points="982.2,2828.7 988.7,2831.5 991.4,2830.1 993.2,2830.1 997.2,2828.0 1003.6,2820.8 996.8,2818.5 994.7,2813.9" fill="none" stroke="#f7faff" stroke-width="0.9" stroke-linejoin="round"/><polyline points="991.4,2830.1 991.4,2843.1" fill="none" stroke="#f7faff" stroke-width="0.9" stroke-linejoin="round"/><polyline points="978.7,2841.7 985.3,2846.6 988.2,2850.3" fill="none" stroke="#f7faff" stroke-width="0.9" stroke-linejoin="round"/><polyline points="970.9,2842.6 972.5,2842.0 978.7,2841.7" fill="none" stroke="#f7faff" stroke-width="0.9" stroke-linejoin="round"/><polyline points="970.9,2842.6 969.8,2845.2 970.4,2851.0 971.6,2858.7 976.9,2861.2 978.5,2861.4 979.9,2866.1 985.1,2866.3 990.5,2863.8" fill="none" stroke="#f7faff" stroke-width="0.9" stroke-linejoin="round"/><polyline points="972.5,2842.0 973.1,2845.0 972.5,2847.3 970.4,2851.0" fill="none" stroke="#f7faff" stroke-width="0.9" stroke-linejoin="round"/><polyline points="939.8,2853.6 946.8,2853.1 947.5,2856.3 950.1,2858.0 956.9,2856.3 957.3,2864.9 960.9,2865.4 960.9,2869.6 957.3,2869.6 957.3,2877.0 959.8,2880.2 963.2,2880.7" fill="none" stroke="#f7faff" stroke-width="0.9" stroke-linejoin="round"/><polyline points="960.9,2865.4 963.5,2866.8 967.1,2867.9 969.8,2870.7 970.9,2867.7 968.9,2861.4 971.6,2858.7" fill="none" stroke="#f7faff" stroke-width="0.9" stroke-linejoin="round"/><polyline points="978.5,2861.4 977.0,2865.9 977.4,2871.9 972.0,2875.6 969.5,2877.9 966.2,2880.9 963.2,2880.7" fill="none" stroke="#f7faff" stroke-width="0.9" stroke-linejoin="round"/><polyline points="979.9,2866.1 981.2,2877.0 977.0,2878.9 976.9,2885.3 976.1,2889.3 974.0,2891.4" fill="none" stroke="#f7faff" stroke-width="0.9" stroke-linejoin="round"/><polyline points="938.9,2879.3 941.8,2878.9 951.0,2879.8 955.5,2881.2 959.8,2880.2" fill="none" stroke="#f7faff" stroke-width="0.9" stroke-linejoin="round"/><polyline points="953.7,2890.5 953.7,2897.0 953.7,2905.3 947.4,2905.8" fill="none" stroke="#f7faff" stroke-width="0.9" stroke-linejoin="round"/><polyline points="953.7,2890.5 955.5,2881.2 963.2,2880.7 964.8,2884.7 970.6,2890.7 974.0,2891.4 975.2,2899.7 976.7,2901.6" fill="none" stroke="#f7faff" stroke-width="0.9" stroke-linejoin="round"/><polyline points="953.7,2897.0 958.2,2899.3 963.9,2898.8 966.6,2895.6 970.6,2890.7" fill="none" stroke="#f7faff" stroke-width="0.9" stroke-linejoin="round"/><polyline points="935.3,2834.1 938.0,2834.3 941.1,2834.3 943.8,2834.3 946.6,2834.3" fill="none" stroke="#f7faff" stroke-width="0.9" stroke-linejoin="round"/><polyline points="938.0,2834.3 937.8,2840.6 938.4,2847.5 939.3,2851.0" fill="none" stroke="#f7faff" stroke-width="0.9" stroke-linejoin="round"/><polyline points="943.8,2834.3 941.6,2836.4 943.4,2843.6 944.3,2849.4 939.3,2851.0" fill="none" stroke="#f7faff" stroke-width="0.9" stroke-linejoin="round"/><polyline points="946.6,2834.3 949.7,2841.7 946.8,2849.4 939.8,2853.6" fill="none" stroke="#f7faff" stroke-width="0.9" stroke-linejoin="round"/><polygon points="967.1,2741.0 968.0,2738.5 969.1,2736.6 970.9,2734.3 972.9,2731.5 976.1,2732.7 978.1,2736.1 981.5,2734.7 983.3,2734.3 986.0,2731.5 986.6,2736.1 988.7,2738.5 992.3,2741.9 992.3,2743.3 986.0,2744.5 980.6,2741.9 975.2,2742.4 972.5,2743.8 969.8,2743.8" fill="#fff"/><polygon points="1002.2,2735.0 1005.8,2731.5 1010.3,2730.3 1013.0,2732.0 1013.4,2736.1 1009.4,2736.1 1012.5,2741.9 1013.0,2746.6 1014.8,2752.4 1009.4,2754.2 1005.8,2752.1 1006.7,2745.4 1003.1,2740.1" fill="#fff"/><polygon points="707.2,2764.0 711.3,2764.0 718.1,2766.8 723.2,2766.8 726.2,2765.6 729.8,2770.7 732.5,2772.1 735.4,2770.2 738.8,2775.6 742.9,2779.3 742.0,2788.3 744.2,2794.1 747.8,2797.2 753.2,2796.5 755.0,2790.7 760.7,2789.5 759.5,2796.5 757.5,2798.1 754.1,2799.5 755.0,2802.3 751.9,2805.8 748.7,2802.3 744.2,2803.0 737.9,2799.9 731.6,2796.9 728.0,2791.8 728.4,2786.0 723.5,2780.2 718.1,2774.4 714.9,2766.3 711.3,2765.6 714.5,2772.1 716.3,2777.9 719.9,2786.0 716.1,2781.8 712.7,2775.6 709.5,2768.9" fill="#a9c6f7" stroke="#f4f8fe" stroke-width="0.6"/><polygon points="824.9,2829.7 827.8,2835.2 829.6,2839.4 837.7,2845.2 845.8,2846.1 851.2,2850.5 854.4,2852.2 855.1,2856.8 854.2,2861.4 850.3,2868.4 847.6,2871.9 847.2,2880.0 844.5,2887.0 842.2,2892.8 837.7,2893.5 831.4,2898.6 830.3,2905.5 826.0,2911.3 821.7,2917.6 821.5,2914.8 817.9,2910.9 814.1,2909.5 817.4,2904.4 819.5,2898.8 820.2,2895.1 817.9,2894.9 817.2,2891.1 813.6,2890.7 813.4,2885.8 814.3,2881.2 812.7,2877.2 809.5,2877.0 808.9,2871.2 804.8,2869.3 800.3,2864.9 798.1,2862.1 792.7,2864.9 790.8,2864.9 790.8,2861.4 787.3,2861.4 784.8,2856.8 786.4,2852.4 791.8,2849.4 792.7,2842.2 792.0,2836.6 797.2,2834.8 798.5,2837.5 802.6,2835.9 801.7,2830.6 804.8,2830.1 808.9,2827.3 810.4,2829.7 810.2,2834.8 816.1,2835.0 820.6,2834.3 823.3,2834.1" fill="#94b8f6" stroke="#f4f8fe" stroke-width="0.6"/><polygon points="970.9,2842.6 971.5,2836.6 973.4,2834.1 973.4,2830.6 977.9,2830.6 978.8,2829.7 980.6,2835.9 978.8,2839.2 978.7,2841.7" fill="#a9c6f7" stroke="#f4f8fe" stroke-width="0.6"/><polygon points="923.8,2720.1 926.2,2716.4 928.5,2715.5 930.6,2715.9 929.9,2718.3 928.5,2719.0 928.8,2721.0 928.1,2721.5 925.8,2720.1" fill="#a9c6f7" stroke="#f4f8fe" stroke-width="0.6"/><polygon points="1040.3,2784.4 1042.7,2787.4 1044.5,2791.1 1048.2,2790.0 1048.6,2794.1 1049.9,2802.3 1052.2,2809.5 1055.2,2818.5 1057.0,2820.6 1057.9,2819.7 1061.2,2815.5 1062.1,2808.3 1061.9,2803.4 1065.7,2800.9 1070.5,2794.1 1073.8,2791.1 1076.8,2789.0 1077.7,2787.2 1077.2,2783.2 1075.9,2780.7 1079.2,2779.1 1079.5,2780.9 1083.1,2781.2 1083.5,2784.9 1082.8,2785.6 1084.2,2787.9 1085.5,2784.9 1087.3,2781.4 1088.9,2777.9 1090.3,2776.0 1087.6,2775.1 1083.1,2777.0 1079.2,2777.7 1078.6,2775.8 1076.3,2775.1 1076.1,2777.9 1072.3,2777.7 1068.7,2775.8 1065.1,2774.9 1062.1,2772.6 1063.3,2769.3 1059.7,2766.5 1058.8,2764.0 1056.7,2762.4 1054.3,2762.8 1053.1,2764.7 1051.7,2767.5 1050.4,2769.1 1049.5,2771.4 1047.7,2774.4 1045.4,2774.9 1043.6,2777.2 1044.8,2779.8 1045.5,2782.5 1042.7,2783.0" fill="#1677e9" stroke="#f4f8fe" stroke-width="0.6"/></svg>
<svg style="position:absolute;left:60px;top:2990px;overflow:visible;" width="120" height="35" viewBox="60 2990 120 35"><text x="93.5" y="3015.7" font-size="13" fill="#5d9cf0" text-anchor="end" >36</text><rect x="101" y="2997.4" width="5.2" height="19.1" rx="2.6" fill="#1a6fe8"/><rect x="111" y="2999.9" width="5.2" height="16.6" rx="2.6" fill="#4c8cef"/><rect x="121" y="3002.4" width="5.2" height="14.1" rx="2.6" fill="#74a7f2"/><rect x="131" y="3004.9" width="5.2" height="11.6" rx="2.6" fill="#a9c6f7"/><rect x="141" y="3006.8" width="5.2" height="9.7" rx="2.6" fill="#dce8fb"/><text x="151.5" y="3015.7" font-size="13" fill="#7fb0f3" text-anchor="start" >0</text></svg>
<div style="position:absolute;left:28.0px;top:3037.4px;width:1779.0px;height:1.0px;background:#e8e9eb;border-radius:0px;"></div>
<svg style="position:absolute;left:300px;top:3060px;overflow:visible;" width="700" height="330" viewBox="300 3060 700 330"><path d="M621.20 3087.10 A137.5 137.5 0 1 1 496.13 3167.48 L529.42 3182.68 A100.9 100.9 0 1 0 621.20 3123.70 Z" fill="#389bfa" stroke="#fff" stroke-width="5" stroke-linejoin="miter"/><path d="M496.13 3167.48 A137.5 137.5 0 0 1 564.08 3099.53 L579.28 3132.82 A100.9 100.9 0 0 0 529.42 3182.68 Z" fill="#2fc5ca" stroke="#fff" stroke-width="5" stroke-linejoin="miter"/><path d="M564.08 3099.53 A137.5 137.5 0 0 1 582.46 3092.67 L592.77 3127.79 A100.9 100.9 0 0 0 579.28 3132.82 Z" fill="#5a6b8c" stroke="#fff" stroke-width="5" stroke-linejoin="miter"/><path d="M582.46 3092.67 A137.5 137.5 0 0 1 601.63 3088.50 L606.84 3124.73 A100.9 100.9 0 0 0 592.77 3127.79 Z" fill="#fccb3a" stroke="#fff" stroke-width="5" stroke-linejoin="miter"/><path d="M601.63 3088.50 A137.5 137.5 0 0 1 621.20 3087.10 L621.20 3123.70 A100.9 100.9 0 0 0 606.84 3124.73 Z" fill="#e76666" stroke="#fff" stroke-width="5" stroke-linejoin="miter"/><text x="621.2" y="3220.7" font-size="13.5" fill="#8a8a8a" text-anchor="middle" >Total Trades Sum</text><text x="621.2" y="3252.5" font-size="24.5" fill="#222" text-anchor="middle" >44</text><text x="331.2" y="3100.2" font-size="12" fill="#666" text-anchor="start" >Brazil</text><text x="331.2" y="3122.7" font-size="12" fill="#666" text-anchor="start" >Trades Sum: 5</text><text x="331.2" y="3145.1" font-size="12" fill="#666" text-anchor="start" >Proportion: 11.37%</text><polyline points="446.8,3118.3 517.4,3118.3 521.8,3124.9" fill="none" stroke="#5bc0de" stroke-width="1"/><text x="775.9" y="3329.6" font-size="12" fill="#666" text-anchor="start" >India</text><text x="775.9" y="3351.8" font-size="12" fill="#666" text-anchor="start" >Trades Sum: 36</text><text x="775.9" y="3374.0" font-size="12" fill="#666" text-anchor="start" >Proportion: 81.82%</text><polyline points="698.1,3342.8 702.5,3347.2 771,3347.2" fill="none" stroke="#389bfa" stroke-width="1"/></svg>
<div style="position:absolute;left:1214.2px;top:3050.5px;width:592.8px;height:39.5px;background:#eaf3fe;border-radius:0px;"></div>
<div style="position:absolute;left:1214.2px;top:3090.0px;width:592.8px;height:138.8px;background:#fff;border-radius:0px;border:1px solid #eceef1;border-top:none;box-sizing:border-box;"></div>
<div style="position:absolute;left:1215.2px;top:3117.8px;width:590.8px;height:27.8px;background:#f9fafc;border-radius:0px;"></div>
<div style="position:absolute;left:1214.2px;top:3117.8px;width:592.8px;height:1.0px;background:#f0f1f3;border-radius:0px;"></div>
<div style="position:absolute;left:1214.2px;top:3145.5px;width:592.8px;height:1.0px;background:#f0f1f3;border-radius:0px;"></div>
<div style="position:absolute;left:1215.2px;top:3173.2px;width:590.8px;height:27.8px;background:#f9fafc;border-radius:0px;"></div>
<div style="position:absolute;left:1214.2px;top:3173.2px;width:592.8px;height:1.0px;background:#f0f1f3;border-radius:0px;"></div>
<div style="position:absolute;left:1214.2px;top:3201.0px;width:592.8px;height:1.0px;background:#f0f1f3;border-radius:0px;"></div>
<div style="position:absolute;left:1604.0px;top:3050.5px;width:1.0px;height:39.5px;background:#6b6f75;border-radius:0px;"></div>
<div style="position:absolute;left:1604.0px;top:3090.0px;width:1.0px;height:138.8px;background:#eceef1;border-radius:0px;"></div>
<div style="position:absolute;left:1806.0px;top:3050.5px;width:1.0px;height:39.5px;background:#6b6f75;border-radius:0px;"></div>
<div style="position:absolute;left:1226.7px;top:3064.4px;font-size:12px;line-height:12px;color:#222;white-space:nowrap;font-weight:700;">TOP 10</div>
<div style="position:absolute;left:1226.7px;top:3098.3px;font-size:11.5px;line-height:11.5px;color:#333;white-space:nowrap;">1.India</div>
<div style="position:absolute;left:1226.7px;top:3126.0px;font-size:11.5px;line-height:11.5px;color:#333;white-space:nowrap;">2.Brazil</div>
<div style="position:absolute;left:1226.7px;top:3153.8px;font-size:11.5px;line-height:11.5px;color:#333;white-space:nowrap;">3.Mexico</div>
<div style="position:absolute;left:1226.7px;top:3181.5px;font-size:11.5px;line-height:11.5px;color:#333;white-space:nowrap;">4.Netherlands</div>
<div style="position:absolute;left:1226.7px;top:3209.3px;font-size:11.5px;line-height:11.5px;color:#333;white-space:nowrap;">5.Uganda</div>
<div style="position:absolute;left:1795.0px;top:3064.4px;font-size:12px;line-height:12px;color:#222;white-space:nowrap;font-weight:700;transform:translateX(-100%);">Trades Sum</div>
<div style="position:absolute;left:1795.0px;top:3098.3px;font-size:11.5px;line-height:11.5px;color:#333;white-space:nowrap;transform:translateX(-100%);">36</div>
<div style="position:absolute;left:1795.0px;top:3126.0px;font-size:11.5px;line-height:11.5px;color:#333;white-space:nowrap;transform:translateX(-100%);">5</div>
<div style="position:absolute;left:1795.0px;top:3153.8px;font-size:11.5px;line-height:11.5px;color:#333;white-space:nowrap;transform:translateX(-100%);">1</div>
<div style="position:absolute;left:1795.0px;top:3181.5px;font-size:11.5px;line-height:11.5px;color:#333;white-space:nowrap;transform:translateX(-100%);">1</div>
<div style="position:absolute;left:1795.0px;top:3209.3px;font-size:11.5px;line-height:11.5px;color:#333;white-space:nowrap;transform:translateX(-100%);">1</div>
<div style="position:absolute;left:5.0px;top:3402.4px;width:1824.0px;height:518.0px;background:#fff;border-radius:6px;"></div>
<div style="position:absolute;left:28.9px;top:3421.5px;font-size:16px;line-height:16px;color:#2a7de8;white-space:nowrap;">Port of Departure</div>
<div style="position:absolute;left:200.2px;top:3421.5px;font-size:16px;line-height:16px;color:#222;white-space:nowrap;">Port of Destination</div>
<div style="position:absolute;left:28.9px;top:3454.5px;width:1775.5px;height:1.0px;background:#e8e9eb;border-radius:0px;"></div>
<div style="position:absolute;left:28.9px;top:3454.5px;width:123.0px;height:3.0px;background:#1a7cf0;border-radius:1px;"></div>
<div style="position:absolute;left:1275.0px;top:3413.6px;width:373.0px;height:31.0px;background:#f2f5f9;border-radius:4px;"></div>
<div style="position:absolute;left:1275.0px;top:3413.6px;width:92.0px;height:31.0px;background:#e3eefc;border-radius:4px;"></div>
<div style="position:absolute;left:1321.0px;top:3422.8px;font-size:13px;line-height:13px;color:#2e7fe6;white-space:nowrap;transform:translateX(-50%);">Trades Sum</div>
<div style="position:absolute;left:1408.5px;top:3422.8px;font-size:13px;line-height:13px;color:#333;white-space:nowrap;transform:translateX(-50%);">Kg weight</div>
<div style="position:absolute;left:1486.5px;top:3422.8px;font-size:13px;line-height:13px;color:#333;white-space:nowrap;transform:translateX(-50%);">quantity</div>
<div style="position:absolute;left:1585.5px;top:3422.8px;font-size:13px;line-height:13px;color:#333;white-space:nowrap;transform:translateX(-50%);">Total price (USD)</div>
<div style="position:absolute;left:1658.3px;top:3413.6px;width:147.0px;height:31.0px;background:#f2f5f9;border-radius:4px;"></div>
<div style="position:absolute;left:1658.3px;top:3413.6px;width:72.0px;height:31.0px;background:#e3eefc;border-radius:4px;"></div>
<svg style="position:absolute;left:1669.3px;top:3423.1px;overflow:visible;" width="14" height="12" viewBox="1669.3 3423.1 14 12"><path d="M1670.0 3423.6 V3434.4 H1683.3" fill="none" stroke="#2e7fe6" stroke-width="1.4"/><rect x="1672.1" y="3424.1" width="2.6" height="9.6" fill="#2e7fe6"/><rect x="1675.8999999999999" y="3426.6" width="2.6" height="7.1" fill="#2e7fe6"/><rect x="1679.7" y="3429.1" width="2.8" height="4.6" fill="#2e7fe6"/></svg>
<div style="position:absolute;left:1687.3px;top:3422.5px;font-size:13.5px;line-height:13.5px;color:#2e7fe6;white-space:nowrap;">Chart</div>
<svg style="position:absolute;left:1741.3px;top:3423.1px;overflow:visible;" width="14" height="12" viewBox="1741.3 3423.1 14 12"><rect x="1741.8999999999999" y="3423.7" width="13" height="10.8" fill="none" stroke="#555" stroke-width="1.2"/><rect x="1741.8999999999999" y="3423.7" width="13" height="1.6" fill="#555"/><line x1="1741.8999999999999" x2="1754.8999999999999" y1="3426.4" y2="3426.4" stroke="#555" stroke-width="0.75"/><line x1="1741.8999999999999" x2="1754.8999999999999" y1="3429.1" y2="3429.1" stroke="#555" stroke-width="0.75"/><line x1="1741.8999999999999" x2="1754.8999999999999" y1="3431.8" y2="3431.8" stroke="#555" stroke-width="0.75"/><line x1="1746.2" x2="1746.2" y1="3423.7" y2="3434.5" stroke="#555" stroke-width="0.75"/><line x1="1750.6" x2="1750.6" y1="3423.7" y2="3434.5" stroke="#555" stroke-width="0.75"/></svg>
<div style="position:absolute;left:1759.3px;top:3422.5px;font-size:13.5px;line-height:13.5px;color:#333;white-space:nowrap;">Detail</div>
<svg style="position:absolute;left:0px;top:3470px;overflow:visible;" width="1835" height="450" viewBox="0 3470 1835 450"><text x="44.5" y="3889.5" font-size="11" fill="#666" text-anchor="end" >0</text><line x1="52.3" x2="1802" y1="3819.1" y2="3819.1" stroke="#ececec" stroke-width="1"/><text x="44.5" y="3823.1" font-size="11" fill="#666" text-anchor="end" >3</text><line x1="52.3" x2="1802" y1="3752.7" y2="3752.7" stroke="#ececec" stroke-width="1"/><text x="44.5" y="3756.7" font-size="11" fill="#666" text-anchor="end" >6</text><line x1="52.3" x2="1802" y1="3686.3" y2="3686.3" stroke="#ececec" stroke-width="1"/><text x="44.5" y="3690.3" font-size="11" fill="#666" text-anchor="end" >9</text><line x1="52.3" x2="1802" y1="3620.0" y2="3620.0" stroke="#ececec" stroke-width="1"/><text x="44.5" y="3623.9" font-size="11" fill="#666" text-anchor="end" >12</text><line x1="52.3" x2="1802" y1="3553.6" y2="3553.6" stroke="#ececec" stroke-width="1"/><text x="44.5" y="3557.5" font-size="11" fill="#666" text-anchor="end" >15</text><line x1="52.3" x2="1802" y1="3487.2" y2="3487.2" stroke="#ececec" stroke-width="1"/><text x="44.5" y="3491.2" font-size="11" fill="#666" text-anchor="end" >18</text><rect x="141.7" y="3487.2" width="40" height="398.3" fill="#389bfa"/><text x="161.7" y="3902.8" font-size="11" fill="#666" text-anchor="middle" >N/A</text><rect x="360.4" y="3531.5" width="40" height="354.0" fill="#389bfa"/><text x="380.4" y="3902.8" font-size="11" fill="#666" text-anchor="middle" >bangalor...</text><rect x="579.1" y="3797.0" width="40" height="88.5" fill="#389bfa"/><text x="599.1" y="3902.8" font-size="11" fill="#666" text-anchor="middle" >santos</text><rect x="797.8" y="3841.2" width="40" height="44.3" fill="#389bfa"/><text x="817.8" y="3902.8" font-size="11" fill="#666" text-anchor="middle" >chennai ...</text><rect x="1016.5" y="3863.4" width="40" height="22.1" fill="#389bfa"/><text x="1036.5" y="3902.8" font-size="11" fill="#666" text-anchor="middle" >chennai</text><rect x="1235.2" y="3863.4" width="40" height="22.1" fill="#389bfa"/><text x="1255.2" y="3902.8" font-size="11" fill="#666" text-anchor="middle" >philipsb...</text><rect x="1453.9" y="3863.4" width="40" height="22.1" fill="#389bfa"/><text x="1473.9" y="3902.8" font-size="11" fill="#666" text-anchor="middle" >rio gran...</text><rect x="1672.6" y="3863.4" width="40" height="22.1" fill="#389bfa"/><text x="1692.6" y="3902.8" font-size="11" fill="#666" text-anchor="middle" >veracruz</text><line x1="52.3" x2="1802" y1="3886.0" y2="3886.0" stroke="#6e7079" stroke-width="1"/></svg>

<div style="position:absolute;left:1832px;top:0;width:3px;height:3923px;background:#eceef1"></div>
</body></html>
